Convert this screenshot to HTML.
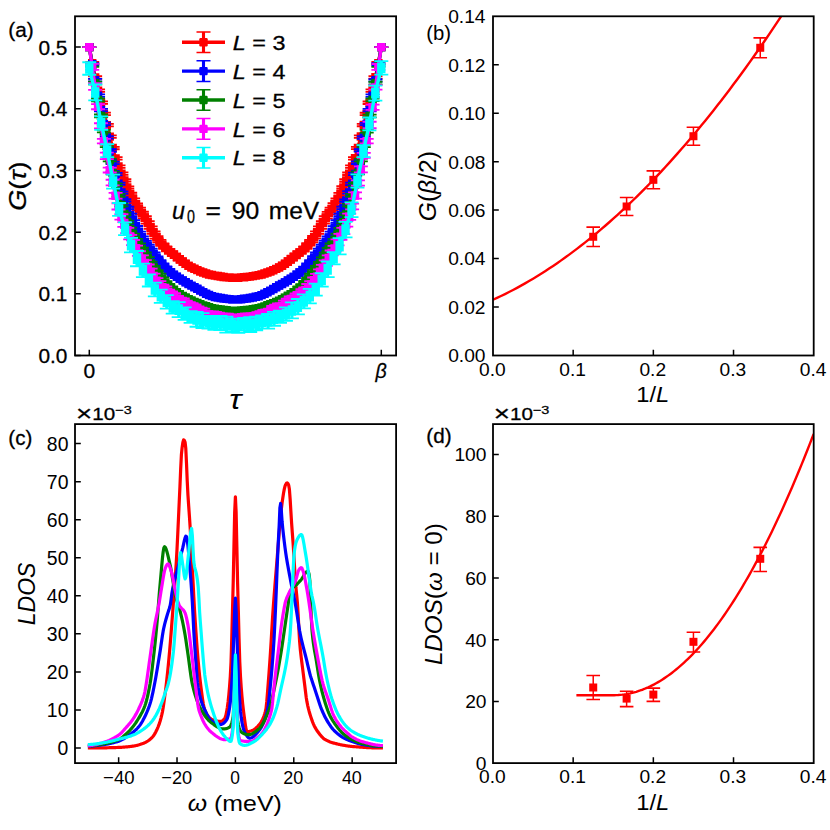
<!DOCTYPE html>
<html><head><meta charset="utf-8"><title>figure</title>
<style>html,body{margin:0;padding:0;background:#fff}svg{display:block}text{font-family:"Liberation Sans",sans-serif}</style></head>
<body>
<svg width="830" height="830" viewBox="0 0 830 830" font-family="'Liberation Sans', sans-serif" fill="#000">
<rect width="830" height="830" fill="#fff"/>
<clipPath id="ca"><rect x="75" y="16.3" width="321.1" height="339.2"/></clipPath>
<g clip-path="url(#ca)">
<polyline points="89.3,47.1 92.22,63.17 95.14,77.34 98.06,90.68 100.98,102.58 103.9,113.91 106.82,125.12 109.74,136.66 112.66,148.06 115.58,158.4 118.5,166.53 121.42,173.68 124.34,180.48 127.26,187.48 130.18,193.96 133.1,199.67 136.02,204.55 138.94,208.81 141.86,213.01 144.78,217.43 147.7,222.36 150.62,227.6 153.54,232.72 156.46,237.31 159.38,241.16 162.3,244.65 165.22,247.54 168.14,250.18 171.06,252.46 173.98,254.77 176.9,257 179.82,259.27 182.74,261.6 185.66,263.86 188.58,265.84 191.5,267.51 194.42,268.77 197.34,270.16 200.26,271.45 203.18,272.5 206.1,273.43 209.02,274.46 211.94,274.98 214.86,275.64 217.78,276.07 220.7,276.47 223.62,276.99 226.54,277.34 229.46,277.56 232.38,277.76 235.3,277.86 238.22,277.74 241.14,277.38 244.06,277.18 246.98,276.86 249.9,276.58 252.82,276.11 255.74,275.65 258.66,275.15 261.58,274.44 264.5,273.56 267.42,272.53 270.34,271.49 273.26,270.2 276.18,268.84 279.1,267.5 282.02,265.71 284.94,263.9 287.86,261.56 290.78,259.32 293.7,257.01 296.62,254.67 299.54,252.43 302.46,250.29 305.38,247.53 308.3,244.48 311.22,241.15 314.14,237.24 317.06,232.7 319.98,227.56 322.9,222.29 325.82,217.42 328.74,213.07 331.66,208.89 334.58,204.44 337.5,199.73 340.42,194.09 343.34,187.51 346.26,180.5 349.18,173.74 352.1,166.57 355.02,158.29 357.94,148.01 360.86,136.56 363.78,125.03 366.7,113.97 369.62,102.73 372.54,90.56 375.46,77.32 378.38,63.12 381.3,47.1" fill="none" stroke="#ff0000" stroke-width="3.4" stroke-linejoin="round"/>
<path d="M92.22 61.92V64.42M95.14 76.11V78.57M98.06 89.43V91.93M100.98 101.32V103.84M103.9 112.68V115.15M106.82 123.88V126.35M109.74 135.46V137.87M112.66 146.84V149.27M115.58 157.16V159.63M118.5 165.29V167.78M121.42 172.43V174.93M124.34 179.25V181.7M127.26 186.28V188.69M130.18 192.74V195.18M133.1 198.41V200.93M136.02 203.34V205.77M138.94 207.58V210.04M141.86 211.75V214.27M144.78 216.23V218.64M147.7 221.12V223.6M150.62 226.34V228.86M153.54 231.5V233.93M156.46 236.07V238.55M159.38 239.9V242.42M162.3 243.44V245.86M165.22 246.31V248.78M168.14 248.93V251.43M171.06 251.22V253.71M173.98 253.54V256M176.9 255.79V258.22M179.82 258.04V260.5M182.74 260.37V262.82M185.66 262.63V265.1M188.58 264.61V267.06M191.5 266.26V268.77M194.42 267.52V270.02M197.34 268.94V271.38M200.26 270.21V272.68M203.18 271.28V273.72M206.1 272.2V274.66M209.02 273.23V275.68M211.94 273.73V276.22M214.86 274.41V276.86M217.78 274.84V277.3M220.7 275.22V277.71M223.62 275.76V278.22M226.54 276.08V278.59M229.46 276.34V278.77M232.38 276.51V279.01M235.3 276.63V279.09M238.22 276.51V278.97M241.14 276.14V278.62M244.06 275.94V278.41M246.98 275.63V278.09M249.9 275.38V277.79M252.82 274.9V277.32M255.74 274.4V276.9M258.66 273.91V276.38M261.58 273.2V275.69M264.5 272.3V274.83M267.42 271.28V273.77M270.34 270.28V272.69M273.26 268.98V271.42M276.18 267.6V270.08M279.1 266.28V268.72M282.02 264.44V266.97M284.94 262.64V265.16M287.86 260.31V262.82M290.78 258.09V260.55M293.7 255.75V258.26M296.62 253.46V255.89M299.54 251.21V253.66M302.46 249.05V251.52M305.38 246.28V248.78M308.3 243.25V245.72M311.22 239.94V242.36M314.14 236.02V238.47M317.06 231.47V233.92M319.98 226.34V228.78M322.9 221.07V223.5M325.82 216.19V218.64M328.74 211.84V214.31M331.66 207.64V210.14M334.58 203.19V205.69M337.5 198.5V200.97M340.42 192.86V195.32M343.34 186.26V188.76M346.26 179.24V181.76M349.18 172.5V174.99M352.1 165.32V167.83M355.02 157.03V159.55M357.94 146.81V149.22M360.86 135.3V137.81M363.78 123.81V126.25M366.7 112.73V115.2M369.62 101.48V103.98M372.54 89.31V91.8M375.46 76.11V78.53M378.38 61.88V64.37" stroke="#ff0000" stroke-width="3.1" fill="none"/>
<path d="M82.3 47.1h14.0M82.3 47.1h14.0M85.22 61.92h14.0M85.22 64.42h14.0M88.14 76.11h14.0M88.14 78.57h14.0M91.06 89.43h14.0M91.06 91.93h14.0M93.98 101.32h14.0M93.98 103.84h14.0M96.9 112.68h14.0M96.9 115.15h14.0M99.82 123.88h14.0M99.82 126.35h14.0M102.74 135.46h14.0M102.74 137.87h14.0M105.66 146.84h14.0M105.66 149.27h14.0M108.58 157.16h14.0M108.58 159.63h14.0M111.5 165.29h14.0M111.5 167.78h14.0M114.42 172.43h14.0M114.42 174.93h14.0M117.34 179.25h14.0M117.34 181.7h14.0M120.26 186.28h14.0M120.26 188.69h14.0M123.18 192.74h14.0M123.18 195.18h14.0M126.1 198.41h14.0M126.1 200.93h14.0M129.02 203.34h14.0M129.02 205.77h14.0M131.94 207.58h14.0M131.94 210.04h14.0M134.86 211.75h14.0M134.86 214.27h14.0M137.78 216.23h14.0M137.78 218.64h14.0M140.7 221.12h14.0M140.7 223.6h14.0M143.62 226.34h14.0M143.62 228.86h14.0M146.54 231.5h14.0M146.54 233.93h14.0M149.46 236.07h14.0M149.46 238.55h14.0M152.38 239.9h14.0M152.38 242.42h14.0M155.3 243.44h14.0M155.3 245.86h14.0M158.22 246.31h14.0M158.22 248.78h14.0M161.14 248.93h14.0M161.14 251.43h14.0M164.06 251.22h14.0M164.06 253.71h14.0M166.98 253.54h14.0M166.98 256h14.0M169.9 255.79h14.0M169.9 258.22h14.0M172.82 258.04h14.0M172.82 260.5h14.0M175.74 260.37h14.0M175.74 262.82h14.0M178.66 262.63h14.0M178.66 265.1h14.0M181.58 264.61h14.0M181.58 267.06h14.0M184.5 266.26h14.0M184.5 268.77h14.0M187.42 267.52h14.0M187.42 270.02h14.0M190.34 268.94h14.0M190.34 271.38h14.0M193.26 270.21h14.0M193.26 272.68h14.0M196.18 271.28h14.0M196.18 273.72h14.0M199.1 272.2h14.0M199.1 274.66h14.0M202.02 273.23h14.0M202.02 275.68h14.0M204.94 273.73h14.0M204.94 276.22h14.0M207.86 274.41h14.0M207.86 276.86h14.0M210.78 274.84h14.0M210.78 277.3h14.0M213.7 275.22h14.0M213.7 277.71h14.0M216.62 275.76h14.0M216.62 278.22h14.0M219.54 276.08h14.0M219.54 278.59h14.0M222.46 276.34h14.0M222.46 278.77h14.0M225.38 276.51h14.0M225.38 279.01h14.0M228.3 276.63h14.0M228.3 279.09h14.0M231.22 276.51h14.0M231.22 278.97h14.0M234.14 276.14h14.0M234.14 278.62h14.0M237.06 275.94h14.0M237.06 278.41h14.0M239.98 275.63h14.0M239.98 278.09h14.0M242.9 275.38h14.0M242.9 277.79h14.0M245.82 274.9h14.0M245.82 277.32h14.0M248.74 274.4h14.0M248.74 276.9h14.0M251.66 273.91h14.0M251.66 276.38h14.0M254.58 273.2h14.0M254.58 275.69h14.0M257.5 272.3h14.0M257.5 274.83h14.0M260.42 271.28h14.0M260.42 273.77h14.0M263.34 270.28h14.0M263.34 272.69h14.0M266.26 268.98h14.0M266.26 271.42h14.0M269.18 267.6h14.0M269.18 270.08h14.0M272.1 266.28h14.0M272.1 268.72h14.0M275.02 264.44h14.0M275.02 266.97h14.0M277.94 262.64h14.0M277.94 265.16h14.0M280.86 260.31h14.0M280.86 262.82h14.0M283.78 258.09h14.0M283.78 260.55h14.0M286.7 255.75h14.0M286.7 258.26h14.0M289.62 253.46h14.0M289.62 255.89h14.0M292.54 251.21h14.0M292.54 253.66h14.0M295.46 249.05h14.0M295.46 251.52h14.0M298.38 246.28h14.0M298.38 248.78h14.0M301.3 243.25h14.0M301.3 245.72h14.0M304.22 239.94h14.0M304.22 242.36h14.0M307.14 236.02h14.0M307.14 238.47h14.0M310.06 231.47h14.0M310.06 233.92h14.0M312.98 226.34h14.0M312.98 228.78h14.0M315.9 221.07h14.0M315.9 223.5h14.0M318.82 216.19h14.0M318.82 218.64h14.0M321.74 211.84h14.0M321.74 214.31h14.0M324.66 207.64h14.0M324.66 210.14h14.0M327.58 203.19h14.0M327.58 205.69h14.0M330.5 198.5h14.0M330.5 200.97h14.0M333.42 192.86h14.0M333.42 195.32h14.0M336.34 186.26h14.0M336.34 188.76h14.0M339.26 179.24h14.0M339.26 181.76h14.0M342.18 172.5h14.0M342.18 174.99h14.0M345.1 165.32h14.0M345.1 167.83h14.0M348.02 157.03h14.0M348.02 159.55h14.0M350.94 146.81h14.0M350.94 149.22h14.0M353.86 135.3h14.0M353.86 137.81h14.0M356.78 123.81h14.0M356.78 126.25h14.0M359.7 112.73h14.0M359.7 115.2h14.0M362.62 101.48h14.0M362.62 103.98h14.0M365.54 89.31h14.0M365.54 91.8h14.0M368.46 76.11h14.0M368.46 78.53h14.0M371.38 61.88h14.0M371.38 64.37h14.0M374.3 47.1h14.0M374.3 47.1h14.0" stroke="#ff0000" stroke-width="1.8" fill="none"/>
<path d="M85.1 47.1h8.4M88.02 63.17h8.4M90.94 77.34h8.4M93.86 90.68h8.4M96.78 102.58h8.4M99.7 113.91h8.4M102.62 125.12h8.4M105.54 136.66h8.4M108.46 148.06h8.4M111.38 158.4h8.4M114.3 166.53h8.4M117.22 173.68h8.4M120.14 180.48h8.4M123.06 187.48h8.4M125.98 193.96h8.4M128.9 199.67h8.4M131.82 204.55h8.4M134.74 208.81h8.4M137.66 213.01h8.4M140.58 217.43h8.4M143.5 222.36h8.4M146.42 227.6h8.4M149.34 232.72h8.4M152.26 237.31h8.4M155.18 241.16h8.4M158.1 244.65h8.4M161.02 247.54h8.4M163.94 250.18h8.4M166.86 252.46h8.4M169.78 254.77h8.4M172.7 257h8.4M175.62 259.27h8.4M178.54 261.6h8.4M181.46 263.86h8.4M184.38 265.84h8.4M187.3 267.51h8.4M190.22 268.77h8.4M193.14 270.16h8.4M196.06 271.45h8.4M198.98 272.5h8.4M201.9 273.43h8.4M204.82 274.46h8.4M207.74 274.98h8.4M210.66 275.64h8.4M213.58 276.07h8.4M216.5 276.47h8.4M219.42 276.99h8.4M222.34 277.34h8.4M225.26 277.56h8.4M228.18 277.76h8.4M231.1 277.86h8.4M234.02 277.74h8.4M236.94 277.38h8.4M239.86 277.18h8.4M242.78 276.86h8.4M245.7 276.58h8.4M248.62 276.11h8.4M251.54 275.65h8.4M254.46 275.15h8.4M257.38 274.44h8.4M260.3 273.56h8.4M263.22 272.53h8.4M266.14 271.49h8.4M269.06 270.2h8.4M271.98 268.84h8.4M274.9 267.5h8.4M277.82 265.71h8.4M280.74 263.9h8.4M283.66 261.56h8.4M286.58 259.32h8.4M289.5 257.01h8.4M292.42 254.67h8.4M295.34 252.43h8.4M298.26 250.29h8.4M301.18 247.53h8.4M304.1 244.48h8.4M307.02 241.15h8.4M309.94 237.24h8.4M312.86 232.7h8.4M315.78 227.56h8.4M318.7 222.29h8.4M321.62 217.42h8.4M324.54 213.07h8.4M327.46 208.89h8.4M330.38 204.44h8.4M333.3 199.73h8.4M336.22 194.09h8.4M339.14 187.51h8.4M342.06 180.5h8.4M344.98 173.74h8.4M347.9 166.57h8.4M350.82 158.29h8.4M353.74 148.01h8.4M356.66 136.56h8.4M359.58 125.03h8.4M362.5 113.97h8.4M365.42 102.73h8.4M368.34 90.56h8.4M371.26 77.32h8.4M374.18 63.12h8.4M377.1 47.1h8.4" stroke="#ff0000" stroke-width="8.4" fill="none"/>
<polyline points="89.3,47.1 92.22,64.29 95.14,80.22 98.06,95.62 100.98,110.07 103.9,123.89 106.82,137.36 109.74,150.5 112.66,162.83 115.58,174.09 118.5,183.73 121.42,192.53 124.34,200.47 127.26,207.93 130.18,214.91 133.1,221.3 136.02,227.26 138.94,232.77 141.86,237.59 144.78,242.05 147.7,245.86 150.62,249.8 153.54,253.75 156.46,257.61 159.38,261.26 162.3,264.65 165.22,267.7 168.14,270.21 171.06,272.65 173.98,274.85 176.9,276.76 179.82,278.7 182.74,280.55 185.66,282.21 188.58,284.03 191.5,285.63 194.42,287.18 197.34,288.81 200.26,290.61 203.18,292.14 206.1,293.79 209.02,295.05 211.94,296.16 214.86,297 217.78,297.46 220.7,297.95 223.62,298.5 226.54,298.91 229.46,299.13 232.38,299.5 235.3,299.59 238.22,299.46 241.14,299.29 244.06,298.82 246.98,298.47 249.9,298.06 252.82,297.51 255.74,296.73 258.66,296.18 261.58,295.12 264.5,293.73 267.42,292.21 270.34,290.6 273.26,288.98 276.18,287.31 279.1,285.57 282.02,283.97 284.94,282.39 287.86,280.48 290.78,278.69 293.7,276.83 296.62,274.79 299.54,272.57 302.46,270.28 305.38,267.77 308.3,264.67 311.22,261.33 314.14,257.48 317.06,253.71 319.98,249.77 322.9,245.92 325.82,241.79 328.74,237.63 331.66,232.82 334.58,227.36 337.5,221.41 340.42,214.9 343.34,207.94 346.26,200.51 349.18,192.42 352.1,183.82 355.02,173.9 357.94,162.73 360.86,150.48 363.78,137.51 366.7,123.98 369.62,110.09 372.54,95.66 375.46,80.26 378.38,64.38 381.3,47.1" fill="none" stroke="#0000ff" stroke-width="3.4" stroke-linejoin="round"/>
<path d="M92.22 63.04V65.55M95.14 78.96V81.47M98.06 94.42V96.83M100.98 108.83V111.31M103.9 122.66V125.11M106.82 136.11V138.61M109.74 149.26V151.74M112.66 161.6V164.06M115.58 172.84V175.35M118.5 182.53V184.94M121.42 191.29V193.77M124.34 199.24V201.69M127.26 206.73V209.14M130.18 213.66V216.16M133.1 220.06V222.54M136.02 226V228.52M138.94 231.53V234.01M141.86 236.37V238.82M144.78 240.78V243.31M147.7 244.65V247.07M150.62 248.59V251.01M153.54 252.5V255M156.46 256.38V258.83M159.38 260.03V262.48M162.3 263.39V265.9M165.22 266.47V268.92M168.14 268.95V271.46M171.06 271.41V273.9M173.98 273.63V276.08M176.9 275.55V277.97M179.82 277.49V279.92M182.74 279.29V281.82M185.66 280.98V283.44M188.58 282.81V285.24M191.5 284.41V286.85M194.42 285.92V288.43M197.34 287.6V290.03M200.26 289.36V291.87M203.18 290.93V293.35M206.1 292.53V295.05M209.02 293.82V296.29M211.94 294.95V297.36M214.86 295.74V298.26M217.78 296.23V298.68M220.7 296.71V299.2M223.62 297.27V299.74M226.54 297.7V300.11M229.46 297.92V300.34M232.38 298.29V300.71M235.3 298.37V300.8M238.22 298.26V300.67M241.14 298.09V300.5M244.06 297.56V300.08M246.98 297.27V299.68M249.9 296.83V299.3M252.82 296.3V298.72M255.74 295.51V297.94M258.66 294.93V297.43M261.58 293.86V296.38M264.5 292.5V294.97M267.42 291V293.41M270.34 289.34V291.87M273.26 287.78V290.19M276.18 286.08V288.54M279.1 284.33V286.81M282.02 282.71V285.23M284.94 281.14V283.64M287.86 279.24V281.72M290.78 277.46V279.91M293.7 275.57V278.08M296.62 273.53V276.04M299.54 271.32V273.83M302.46 269.03V271.53M305.38 266.57V268.98M308.3 263.45V265.89M311.22 260.1V262.56M314.14 256.24V258.71M317.06 252.46V254.96M319.98 248.55V250.99M322.9 244.68V247.17M325.82 240.57V243.02M328.74 236.38V238.88M331.66 231.61V234.04M334.58 226.12V228.59M337.5 220.2V222.62M340.42 213.68V216.11M343.34 206.67V209.2M346.26 199.28V201.73M349.18 191.17V193.68M352.1 182.58V185.05M355.02 172.7V175.11M357.94 161.48V163.98M360.86 149.27V151.69M363.78 136.25V138.76M366.7 122.78V125.18M369.62 108.85V111.33M372.54 94.44V96.87M375.46 79.04V81.49M378.38 63.12V65.64" stroke="#0000ff" stroke-width="3.1" fill="none"/>
<path d="M82.3 47.1h14.0M82.3 47.1h14.0M85.22 63.04h14.0M85.22 65.55h14.0M88.14 78.96h14.0M88.14 81.47h14.0M91.06 94.42h14.0M91.06 96.83h14.0M93.98 108.83h14.0M93.98 111.31h14.0M96.9 122.66h14.0M96.9 125.11h14.0M99.82 136.11h14.0M99.82 138.61h14.0M102.74 149.26h14.0M102.74 151.74h14.0M105.66 161.6h14.0M105.66 164.06h14.0M108.58 172.84h14.0M108.58 175.35h14.0M111.5 182.53h14.0M111.5 184.94h14.0M114.42 191.29h14.0M114.42 193.77h14.0M117.34 199.24h14.0M117.34 201.69h14.0M120.26 206.73h14.0M120.26 209.14h14.0M123.18 213.66h14.0M123.18 216.16h14.0M126.1 220.06h14.0M126.1 222.54h14.0M129.02 226h14.0M129.02 228.52h14.0M131.94 231.53h14.0M131.94 234.01h14.0M134.86 236.37h14.0M134.86 238.82h14.0M137.78 240.78h14.0M137.78 243.31h14.0M140.7 244.65h14.0M140.7 247.07h14.0M143.62 248.59h14.0M143.62 251.01h14.0M146.54 252.5h14.0M146.54 255h14.0M149.46 256.38h14.0M149.46 258.83h14.0M152.38 260.03h14.0M152.38 262.48h14.0M155.3 263.39h14.0M155.3 265.9h14.0M158.22 266.47h14.0M158.22 268.92h14.0M161.14 268.95h14.0M161.14 271.46h14.0M164.06 271.41h14.0M164.06 273.9h14.0M166.98 273.63h14.0M166.98 276.08h14.0M169.9 275.55h14.0M169.9 277.97h14.0M172.82 277.49h14.0M172.82 279.92h14.0M175.74 279.29h14.0M175.74 281.82h14.0M178.66 280.98h14.0M178.66 283.44h14.0M181.58 282.81h14.0M181.58 285.24h14.0M184.5 284.41h14.0M184.5 286.85h14.0M187.42 285.92h14.0M187.42 288.43h14.0M190.34 287.6h14.0M190.34 290.03h14.0M193.26 289.36h14.0M193.26 291.87h14.0M196.18 290.93h14.0M196.18 293.35h14.0M199.1 292.53h14.0M199.1 295.05h14.0M202.02 293.82h14.0M202.02 296.29h14.0M204.94 294.95h14.0M204.94 297.36h14.0M207.86 295.74h14.0M207.86 298.26h14.0M210.78 296.23h14.0M210.78 298.68h14.0M213.7 296.71h14.0M213.7 299.2h14.0M216.62 297.27h14.0M216.62 299.74h14.0M219.54 297.7h14.0M219.54 300.11h14.0M222.46 297.92h14.0M222.46 300.34h14.0M225.38 298.29h14.0M225.38 300.71h14.0M228.3 298.37h14.0M228.3 300.8h14.0M231.22 298.26h14.0M231.22 300.67h14.0M234.14 298.09h14.0M234.14 300.5h14.0M237.06 297.56h14.0M237.06 300.08h14.0M239.98 297.27h14.0M239.98 299.68h14.0M242.9 296.83h14.0M242.9 299.3h14.0M245.82 296.3h14.0M245.82 298.72h14.0M248.74 295.51h14.0M248.74 297.94h14.0M251.66 294.93h14.0M251.66 297.43h14.0M254.58 293.86h14.0M254.58 296.38h14.0M257.5 292.5h14.0M257.5 294.97h14.0M260.42 291h14.0M260.42 293.41h14.0M263.34 289.34h14.0M263.34 291.87h14.0M266.26 287.78h14.0M266.26 290.19h14.0M269.18 286.08h14.0M269.18 288.54h14.0M272.1 284.33h14.0M272.1 286.81h14.0M275.02 282.71h14.0M275.02 285.23h14.0M277.94 281.14h14.0M277.94 283.64h14.0M280.86 279.24h14.0M280.86 281.72h14.0M283.78 277.46h14.0M283.78 279.91h14.0M286.7 275.57h14.0M286.7 278.08h14.0M289.62 273.53h14.0M289.62 276.04h14.0M292.54 271.32h14.0M292.54 273.83h14.0M295.46 269.03h14.0M295.46 271.53h14.0M298.38 266.57h14.0M298.38 268.98h14.0M301.3 263.45h14.0M301.3 265.89h14.0M304.22 260.1h14.0M304.22 262.56h14.0M307.14 256.24h14.0M307.14 258.71h14.0M310.06 252.46h14.0M310.06 254.96h14.0M312.98 248.55h14.0M312.98 250.99h14.0M315.9 244.68h14.0M315.9 247.17h14.0M318.82 240.57h14.0M318.82 243.02h14.0M321.74 236.38h14.0M321.74 238.88h14.0M324.66 231.61h14.0M324.66 234.04h14.0M327.58 226.12h14.0M327.58 228.59h14.0M330.5 220.2h14.0M330.5 222.62h14.0M333.42 213.68h14.0M333.42 216.11h14.0M336.34 206.67h14.0M336.34 209.2h14.0M339.26 199.28h14.0M339.26 201.73h14.0M342.18 191.17h14.0M342.18 193.68h14.0M345.1 182.58h14.0M345.1 185.05h14.0M348.02 172.7h14.0M348.02 175.11h14.0M350.94 161.48h14.0M350.94 163.98h14.0M353.86 149.27h14.0M353.86 151.69h14.0M356.78 136.25h14.0M356.78 138.76h14.0M359.7 122.78h14.0M359.7 125.18h14.0M362.62 108.85h14.0M362.62 111.33h14.0M365.54 94.44h14.0M365.54 96.87h14.0M368.46 79.04h14.0M368.46 81.49h14.0M371.38 63.12h14.0M371.38 65.64h14.0M374.3 47.1h14.0M374.3 47.1h14.0" stroke="#0000ff" stroke-width="1.8" fill="none"/>
<path d="M85.1 47.1h8.4M88.02 64.29h8.4M90.94 80.22h8.4M93.86 95.62h8.4M96.78 110.07h8.4M99.7 123.89h8.4M102.62 137.36h8.4M105.54 150.5h8.4M108.46 162.83h8.4M111.38 174.09h8.4M114.3 183.73h8.4M117.22 192.53h8.4M120.14 200.47h8.4M123.06 207.93h8.4M125.98 214.91h8.4M128.9 221.3h8.4M131.82 227.26h8.4M134.74 232.77h8.4M137.66 237.59h8.4M140.58 242.05h8.4M143.5 245.86h8.4M146.42 249.8h8.4M149.34 253.75h8.4M152.26 257.61h8.4M155.18 261.26h8.4M158.1 264.65h8.4M161.02 267.7h8.4M163.94 270.21h8.4M166.86 272.65h8.4M169.78 274.85h8.4M172.7 276.76h8.4M175.62 278.7h8.4M178.54 280.55h8.4M181.46 282.21h8.4M184.38 284.03h8.4M187.3 285.63h8.4M190.22 287.18h8.4M193.14 288.81h8.4M196.06 290.61h8.4M198.98 292.14h8.4M201.9 293.79h8.4M204.82 295.05h8.4M207.74 296.16h8.4M210.66 297h8.4M213.58 297.46h8.4M216.5 297.95h8.4M219.42 298.5h8.4M222.34 298.91h8.4M225.26 299.13h8.4M228.18 299.5h8.4M231.1 299.59h8.4M234.02 299.46h8.4M236.94 299.29h8.4M239.86 298.82h8.4M242.78 298.47h8.4M245.7 298.06h8.4M248.62 297.51h8.4M251.54 296.73h8.4M254.46 296.18h8.4M257.38 295.12h8.4M260.3 293.73h8.4M263.22 292.21h8.4M266.14 290.6h8.4M269.06 288.98h8.4M271.98 287.31h8.4M274.9 285.57h8.4M277.82 283.97h8.4M280.74 282.39h8.4M283.66 280.48h8.4M286.58 278.69h8.4M289.5 276.83h8.4M292.42 274.79h8.4M295.34 272.57h8.4M298.26 270.28h8.4M301.18 267.77h8.4M304.1 264.67h8.4M307.02 261.33h8.4M309.94 257.48h8.4M312.86 253.71h8.4M315.78 249.77h8.4M318.7 245.92h8.4M321.62 241.79h8.4M324.54 237.63h8.4M327.46 232.82h8.4M330.38 227.36h8.4M333.3 221.41h8.4M336.22 214.9h8.4M339.14 207.94h8.4M342.06 200.51h8.4M344.98 192.42h8.4M347.9 183.82h8.4M350.82 173.9h8.4M353.74 162.73h8.4M356.66 150.48h8.4M359.58 137.51h8.4M362.5 123.98h8.4M365.42 110.09h8.4M368.34 95.66h8.4M371.26 80.26h8.4M374.18 64.38h8.4M377.1 47.1h8.4" stroke="#0000ff" stroke-width="8.4" fill="none"/>
<polyline points="89.3,47.1 92.22,65.63 95.14,83.08 98.06,99.86 100.98,115.86 103.9,131.1 106.82,145.89 109.74,159.97 112.66,173.01 115.58,184.69 118.5,195.32 121.42,205.01 124.34,213.94 127.26,221.91 130.18,229.09 133.1,235.09 136.02,240.3 138.94,244.68 141.86,249.08 144.78,253.88 147.7,258.43 150.62,263.08 153.54,267.31 156.46,271.35 159.38,275.06 162.3,278.86 165.22,282.45 168.14,285.35 171.06,287.84 173.98,290.18 176.9,292.25 179.82,294.14 182.74,295.86 185.66,297.6 188.58,299.1 191.5,300.47 194.42,301.87 197.34,303.04 200.26,304.19 203.18,305.33 206.1,306.29 209.02,307.3 211.94,308.14 214.86,308.72 217.78,309.16 220.7,309.56 223.62,309.95 226.54,310.28 229.46,310.62 232.38,310.74 235.3,310.82 238.22,310.81 241.14,310.55 244.06,310.32 246.98,310.04 249.9,309.7 252.82,309.21 255.74,308.68 258.66,308.11 261.58,307.37 264.5,306.33 267.42,305.29 270.34,304.17 273.26,303.1 276.18,301.89 279.1,300.62 282.02,299.25 284.94,297.59 287.86,295.93 290.78,294.11 293.7,292.23 296.62,290.15 299.54,287.89 302.46,285.4 305.38,282.3 308.3,278.95 311.22,275.13 314.14,271.24 317.06,267.33 319.98,263.11 322.9,258.63 325.82,253.9 328.74,249.22 331.66,244.83 334.58,240.26 337.5,235.1 340.42,229.15 343.34,222.05 346.26,213.95 349.18,205.12 352.1,195.19 355.02,184.58 357.94,173.02 360.86,159.96 363.78,145.87 366.7,131.2 369.62,115.94 372.54,99.84 375.46,83.09 378.38,65.5 381.3,47.1" fill="none" stroke="#008000" stroke-width="3.4" stroke-linejoin="round"/>
<path d="M92.22 64.3V66.96M95.14 81.69V84.47M98.06 98.48V101.23M100.98 114.49V117.24M103.9 129.79V132.42M106.82 144.57V147.21M109.74 158.67V161.28M112.66 171.7V174.32M115.58 183.37V186M118.5 193.91V196.73M121.42 203.61V206.41M124.34 212.62V215.27M127.26 220.58V223.24M130.18 227.68V230.49M133.1 233.73V236.46M136.02 238.95V241.64M138.94 243.33V246.04M141.86 247.75V250.41M144.78 252.51V255.24M147.7 257.05V259.81M150.62 261.72V264.44M153.54 265.92V268.71M156.46 270.03V272.66M159.38 273.69V276.43M162.3 277.45V280.27M165.22 281.13V283.77M168.14 284V286.71M171.06 286.47V289.21M173.98 288.84V291.52M176.9 290.84V293.66M179.82 292.78V295.49M182.74 294.51V297.22M185.66 296.2V299M188.58 297.8V300.4M191.5 299.07V301.87M194.42 300.55V303.18M197.34 301.7V304.39M200.26 302.84V305.55M203.18 303.98V306.69M206.1 304.98V307.6M209.02 305.96V308.64M211.94 306.8V309.48M214.86 307.32V310.13M217.78 307.75V310.56M220.7 308.2V310.93M223.62 308.55V311.36M226.54 308.89V311.68M229.46 309.28V311.97M232.38 309.42V312.05M235.3 309.45V312.19M238.22 309.47V312.15M241.14 309.25V311.85M244.06 308.91V311.73M246.98 308.63V311.45M249.9 308.34V311.06M252.82 307.84V310.58M255.74 307.3V310.06M258.66 306.7V309.51M261.58 306.02V308.72M264.5 304.96V307.7M267.42 303.96V306.62M270.34 302.85V305.5M273.26 301.75V304.46M276.18 300.56V303.21M279.1 299.31V301.92M282.02 297.91V300.59M284.94 296.2V298.97M287.86 294.6V297.26M290.78 292.71V295.51M293.7 290.85V293.61M296.62 288.78V291.52M299.54 286.49V289.29M302.46 284.09V286.71M305.38 280.98V283.62M308.3 277.55V280.35M311.22 273.73V276.53M314.14 269.93V272.56M317.06 265.94V268.71M319.98 261.81V264.41M322.9 257.31V259.94M325.82 252.59V255.22M328.74 247.88V250.55M331.66 243.49V246.18M334.58 238.86V241.66M337.5 233.75V236.45M340.42 227.83V230.46M343.34 220.72V223.39M346.26 212.64V215.25M349.18 203.81V206.42M352.1 193.84V196.54M355.02 183.22V185.94M357.94 171.69V174.35M360.86 158.61V161.3M363.78 144.55V147.18M366.7 129.83V132.58M369.62 114.6V117.29M372.54 98.51V101.16M375.46 81.73V84.45M378.38 64.18V66.83" stroke="#008000" stroke-width="3.1" fill="none"/>
<path d="M82.3 47.1h14.0M82.3 47.1h14.0M85.22 64.3h14.0M85.22 66.96h14.0M88.14 81.69h14.0M88.14 84.47h14.0M91.06 98.48h14.0M91.06 101.23h14.0M93.98 114.49h14.0M93.98 117.24h14.0M96.9 129.79h14.0M96.9 132.42h14.0M99.82 144.57h14.0M99.82 147.21h14.0M102.74 158.67h14.0M102.74 161.28h14.0M105.66 171.7h14.0M105.66 174.32h14.0M108.58 183.37h14.0M108.58 186h14.0M111.5 193.91h14.0M111.5 196.73h14.0M114.42 203.61h14.0M114.42 206.41h14.0M117.34 212.62h14.0M117.34 215.27h14.0M120.26 220.58h14.0M120.26 223.24h14.0M123.18 227.68h14.0M123.18 230.49h14.0M126.1 233.73h14.0M126.1 236.46h14.0M129.02 238.95h14.0M129.02 241.64h14.0M131.94 243.33h14.0M131.94 246.04h14.0M134.86 247.75h14.0M134.86 250.41h14.0M137.78 252.51h14.0M137.78 255.24h14.0M140.7 257.05h14.0M140.7 259.81h14.0M143.62 261.72h14.0M143.62 264.44h14.0M146.54 265.92h14.0M146.54 268.71h14.0M149.46 270.03h14.0M149.46 272.66h14.0M152.38 273.69h14.0M152.38 276.43h14.0M155.3 277.45h14.0M155.3 280.27h14.0M158.22 281.13h14.0M158.22 283.77h14.0M161.14 284h14.0M161.14 286.71h14.0M164.06 286.47h14.0M164.06 289.21h14.0M166.98 288.84h14.0M166.98 291.52h14.0M169.9 290.84h14.0M169.9 293.66h14.0M172.82 292.78h14.0M172.82 295.49h14.0M175.74 294.51h14.0M175.74 297.22h14.0M178.66 296.2h14.0M178.66 299h14.0M181.58 297.8h14.0M181.58 300.4h14.0M184.5 299.07h14.0M184.5 301.87h14.0M187.42 300.55h14.0M187.42 303.18h14.0M190.34 301.7h14.0M190.34 304.39h14.0M193.26 302.84h14.0M193.26 305.55h14.0M196.18 303.98h14.0M196.18 306.69h14.0M199.1 304.98h14.0M199.1 307.6h14.0M202.02 305.96h14.0M202.02 308.64h14.0M204.94 306.8h14.0M204.94 309.48h14.0M207.86 307.32h14.0M207.86 310.13h14.0M210.78 307.75h14.0M210.78 310.56h14.0M213.7 308.2h14.0M213.7 310.93h14.0M216.62 308.55h14.0M216.62 311.36h14.0M219.54 308.89h14.0M219.54 311.68h14.0M222.46 309.28h14.0M222.46 311.97h14.0M225.38 309.42h14.0M225.38 312.05h14.0M228.3 309.45h14.0M228.3 312.19h14.0M231.22 309.47h14.0M231.22 312.15h14.0M234.14 309.25h14.0M234.14 311.85h14.0M237.06 308.91h14.0M237.06 311.73h14.0M239.98 308.63h14.0M239.98 311.45h14.0M242.9 308.34h14.0M242.9 311.06h14.0M245.82 307.84h14.0M245.82 310.58h14.0M248.74 307.3h14.0M248.74 310.06h14.0M251.66 306.7h14.0M251.66 309.51h14.0M254.58 306.02h14.0M254.58 308.72h14.0M257.5 304.96h14.0M257.5 307.7h14.0M260.42 303.96h14.0M260.42 306.62h14.0M263.34 302.85h14.0M263.34 305.5h14.0M266.26 301.75h14.0M266.26 304.46h14.0M269.18 300.56h14.0M269.18 303.21h14.0M272.1 299.31h14.0M272.1 301.92h14.0M275.02 297.91h14.0M275.02 300.59h14.0M277.94 296.2h14.0M277.94 298.97h14.0M280.86 294.6h14.0M280.86 297.26h14.0M283.78 292.71h14.0M283.78 295.51h14.0M286.7 290.85h14.0M286.7 293.61h14.0M289.62 288.78h14.0M289.62 291.52h14.0M292.54 286.49h14.0M292.54 289.29h14.0M295.46 284.09h14.0M295.46 286.71h14.0M298.38 280.98h14.0M298.38 283.62h14.0M301.3 277.55h14.0M301.3 280.35h14.0M304.22 273.73h14.0M304.22 276.53h14.0M307.14 269.93h14.0M307.14 272.56h14.0M310.06 265.94h14.0M310.06 268.71h14.0M312.98 261.81h14.0M312.98 264.41h14.0M315.9 257.31h14.0M315.9 259.94h14.0M318.82 252.59h14.0M318.82 255.22h14.0M321.74 247.88h14.0M321.74 250.55h14.0M324.66 243.49h14.0M324.66 246.18h14.0M327.58 238.86h14.0M327.58 241.66h14.0M330.5 233.75h14.0M330.5 236.45h14.0M333.42 227.83h14.0M333.42 230.46h14.0M336.34 220.72h14.0M336.34 223.39h14.0M339.26 212.64h14.0M339.26 215.25h14.0M342.18 203.81h14.0M342.18 206.42h14.0M345.1 193.84h14.0M345.1 196.54h14.0M348.02 183.22h14.0M348.02 185.94h14.0M350.94 171.69h14.0M350.94 174.35h14.0M353.86 158.61h14.0M353.86 161.3h14.0M356.78 144.55h14.0M356.78 147.18h14.0M359.7 129.83h14.0M359.7 132.58h14.0M362.62 114.6h14.0M362.62 117.29h14.0M365.54 98.51h14.0M365.54 101.16h14.0M368.46 81.73h14.0M368.46 84.45h14.0M371.38 64.18h14.0M371.38 66.83h14.0M374.3 47.1h14.0M374.3 47.1h14.0" stroke="#008000" stroke-width="1.8" fill="none"/>
<path d="M85.1 47.1h8.4M88.02 65.63h8.4M90.94 83.08h8.4M93.86 99.86h8.4M96.78 115.86h8.4M99.7 131.1h8.4M102.62 145.89h8.4M105.54 159.97h8.4M108.46 173.01h8.4M111.38 184.69h8.4M114.3 195.32h8.4M117.22 205.01h8.4M120.14 213.94h8.4M123.06 221.91h8.4M125.98 229.09h8.4M128.9 235.09h8.4M131.82 240.3h8.4M134.74 244.68h8.4M137.66 249.08h8.4M140.58 253.88h8.4M143.5 258.43h8.4M146.42 263.08h8.4M149.34 267.31h8.4M152.26 271.35h8.4M155.18 275.06h8.4M158.1 278.86h8.4M161.02 282.45h8.4M163.94 285.35h8.4M166.86 287.84h8.4M169.78 290.18h8.4M172.7 292.25h8.4M175.62 294.14h8.4M178.54 295.86h8.4M181.46 297.6h8.4M184.38 299.1h8.4M187.3 300.47h8.4M190.22 301.87h8.4M193.14 303.04h8.4M196.06 304.19h8.4M198.98 305.33h8.4M201.9 306.29h8.4M204.82 307.3h8.4M207.74 308.14h8.4M210.66 308.72h8.4M213.58 309.16h8.4M216.5 309.56h8.4M219.42 309.95h8.4M222.34 310.28h8.4M225.26 310.62h8.4M228.18 310.74h8.4M231.1 310.82h8.4M234.02 310.81h8.4M236.94 310.55h8.4M239.86 310.32h8.4M242.78 310.04h8.4M245.7 309.7h8.4M248.62 309.21h8.4M251.54 308.68h8.4M254.46 308.11h8.4M257.38 307.37h8.4M260.3 306.33h8.4M263.22 305.29h8.4M266.14 304.17h8.4M269.06 303.1h8.4M271.98 301.89h8.4M274.9 300.62h8.4M277.82 299.25h8.4M280.74 297.59h8.4M283.66 295.93h8.4M286.58 294.11h8.4M289.5 292.23h8.4M292.42 290.15h8.4M295.34 287.89h8.4M298.26 285.4h8.4M301.18 282.3h8.4M304.1 278.95h8.4M307.02 275.13h8.4M309.94 271.24h8.4M312.86 267.33h8.4M315.78 263.11h8.4M318.7 258.63h8.4M321.62 253.9h8.4M324.54 249.22h8.4M327.46 244.83h8.4M330.38 240.26h8.4M333.3 235.1h8.4M336.22 229.15h8.4M339.14 222.05h8.4M342.06 213.95h8.4M344.98 205.12h8.4M347.9 195.19h8.4M350.82 184.58h8.4M353.74 173.02h8.4M356.66 159.96h8.4M359.58 145.87h8.4M362.5 131.2h8.4M365.42 115.94h8.4M368.34 99.84h8.4M371.26 83.09h8.4M374.18 65.5h8.4M377.1 47.1h8.4" stroke="#008000" stroke-width="8.4" fill="none"/>
<polyline points="89.3,47.1 92.22,66.87 95.14,86.69 98.06,106.71 100.98,125.84 103.9,141.15 106.82,155.87 109.74,170.1 112.66,182.57 115.58,195.75 118.5,206.38 121.42,216.89 124.34,224.49 127.26,230.45 130.18,237.07 133.1,242.53 136.02,248.56 138.94,253.54 141.86,258.78 144.78,263.04 147.7,267.05 150.62,271.78 153.54,275.92 156.46,280.74 159.38,284.33 162.3,287.15 165.22,289.37 168.14,291.87 171.06,294.26 173.98,296.11 176.9,298.34 179.82,300.11 182.74,301.33 185.66,303.63 188.58,304.86 191.5,305.79 194.42,307.79 197.34,308.99 200.26,310.83 203.18,311.15 206.1,313.85 209.02,314.42 211.94,315.2 214.86,314.81 217.78,315.75 220.7,316.42 223.62,317.2 226.54,316.93 229.46,317.29 232.38,317.76 235.3,318.12 238.22,317.91 241.14,317.25 244.06,316.95 246.98,316.7 249.9,316.38 252.82,316.53 255.74,315.39 258.66,315.2 261.58,313.99 264.5,312.84 267.42,312.12 270.34,310.98 273.26,308.88 276.18,307.7 279.1,306.62 282.02,306.04 284.94,303.43 287.86,301.58 290.78,299.69 293.7,298.54 296.62,296.58 299.54,294.41 302.46,291.69 305.38,290.02 308.3,287.02 311.22,284.35 314.14,280.26 317.06,276.82 319.98,271.72 322.9,267.61 325.82,263.04 328.74,258.07 331.66,252.91 334.58,248.8 337.5,242.38 340.42,236.81 343.34,231 346.26,223.94 349.18,216.73 352.1,206.43 355.02,195.48 357.94,183.03 360.86,169.37 363.78,155.32 366.7,141.13 369.62,125 372.54,107.19 375.46,87.45 378.38,66.92 381.3,47.1" fill="none" stroke="#ff00ff" stroke-width="3.4" stroke-linejoin="round"/>
<path d="M92.22 63.87V69.86M95.14 83.46V89.93M98.06 104.18V109.25M100.98 123.24V128.44M103.9 138.87V143.44M106.82 152.69V159.05M109.74 167.7V172.49M112.66 179.74V185.4M115.58 192.97V198.54M118.5 203.25V209.5M121.42 214.24V219.54M124.34 222.11V226.87M127.26 227.8V233.09M130.18 234.79V239.34M133.1 239.98V245.09M136.02 245.64V251.48M138.94 251.26V255.83M141.86 255.46V262.1M144.78 260.22V265.85M147.7 264.49V269.6M150.62 268.63V274.92M153.54 273.54V278.29M156.46 278.17V283.32M159.38 281.07V287.59M162.3 284.66V289.64M165.22 286.34V292.4M168.14 289.56V294.18M171.06 291.44V297.07M173.98 293.16V299.06M176.9 295.89V300.8M179.82 297.53V302.7M182.74 298.5V304.16M185.66 300.76V306.51M188.58 302.47V307.26M191.5 303.11V308.47M194.42 304.46V311.12M197.34 306.41V311.57M200.26 307.74V313.92M203.18 308.7V313.59M206.1 311.11V316.58M209.02 311.63V317.22M211.94 312.32V318.09M214.86 311.79V317.83M217.78 312.64V318.85M220.7 313.42V319.42M223.62 314.08V320.32M226.54 313.73V320.14M229.46 314.71V319.87M232.38 314.62V320.9M235.3 315.32V320.92M238.22 315.41V320.42M241.14 314.84V319.67M244.06 313.88V320.02M246.98 313.77V319.63M249.9 314.08V318.68M252.82 313.66V319.41M255.74 313.12V317.66M258.66 312.54V317.85M261.58 311.14V316.84M264.5 309.9V315.78M267.42 309.72V314.52M270.34 308.71V313.25M273.26 306.02V311.74M276.18 304.57V310.83M279.1 303.52V309.73M282.02 303.42V308.66M284.94 300.57V306.29M287.86 298.56V304.6M290.78 296.5V302.88M293.7 295.77V301.3M296.62 293.39V299.77M299.54 291.84V296.99M302.46 289.23V294.16M305.38 287.47V292.56M308.3 283.99V290.05M311.22 281.14V287.55M314.14 277.52V283.01M317.06 273.83V279.81M319.98 269.35V274.1M322.9 264.83V270.39M325.82 260.34V265.75M328.74 255.37V260.77M331.66 250.48V255.34M334.58 245.89V251.71M337.5 239.41V245.35M340.42 233.88V239.73M343.34 227.96V234.05M346.26 221.22V226.67M349.18 213.57V219.9M352.1 203.58V209.29M355.02 192.28V198.68M357.94 180.36V185.71M360.86 166.37V172.36M363.78 152.88V157.75M366.7 138.81V143.44M369.62 121.74V128.25M372.54 104.55V109.82M375.46 85.18V89.72M378.38 64.01V69.83" stroke="#ff00ff" stroke-width="3.1" fill="none"/>
<path d="M82.3 47.1h14.0M82.3 47.1h14.0M85.22 63.87h14.0M85.22 69.86h14.0M88.14 83.46h14.0M88.14 89.93h14.0M91.06 104.18h14.0M91.06 109.25h14.0M93.98 123.24h14.0M93.98 128.44h14.0M96.9 138.87h14.0M96.9 143.44h14.0M99.82 152.69h14.0M99.82 159.05h14.0M102.74 167.7h14.0M102.74 172.49h14.0M105.66 179.74h14.0M105.66 185.4h14.0M108.58 192.97h14.0M108.58 198.54h14.0M111.5 203.25h14.0M111.5 209.5h14.0M114.42 214.24h14.0M114.42 219.54h14.0M117.34 222.11h14.0M117.34 226.87h14.0M120.26 227.8h14.0M120.26 233.09h14.0M123.18 234.79h14.0M123.18 239.34h14.0M126.1 239.98h14.0M126.1 245.09h14.0M129.02 245.64h14.0M129.02 251.48h14.0M131.94 251.26h14.0M131.94 255.83h14.0M134.86 255.46h14.0M134.86 262.1h14.0M137.78 260.22h14.0M137.78 265.85h14.0M140.7 264.49h14.0M140.7 269.6h14.0M143.62 268.63h14.0M143.62 274.92h14.0M146.54 273.54h14.0M146.54 278.29h14.0M149.46 278.17h14.0M149.46 283.32h14.0M152.38 281.07h14.0M152.38 287.59h14.0M155.3 284.66h14.0M155.3 289.64h14.0M158.22 286.34h14.0M158.22 292.4h14.0M161.14 289.56h14.0M161.14 294.18h14.0M164.06 291.44h14.0M164.06 297.07h14.0M166.98 293.16h14.0M166.98 299.06h14.0M169.9 295.89h14.0M169.9 300.8h14.0M172.82 297.53h14.0M172.82 302.7h14.0M175.74 298.5h14.0M175.74 304.16h14.0M178.66 300.76h14.0M178.66 306.51h14.0M181.58 302.47h14.0M181.58 307.26h14.0M184.5 303.11h14.0M184.5 308.47h14.0M187.42 304.46h14.0M187.42 311.12h14.0M190.34 306.41h14.0M190.34 311.57h14.0M193.26 307.74h14.0M193.26 313.92h14.0M196.18 308.7h14.0M196.18 313.59h14.0M199.1 311.11h14.0M199.1 316.58h14.0M202.02 311.63h14.0M202.02 317.22h14.0M204.94 312.32h14.0M204.94 318.09h14.0M207.86 311.79h14.0M207.86 317.83h14.0M210.78 312.64h14.0M210.78 318.85h14.0M213.7 313.42h14.0M213.7 319.42h14.0M216.62 314.08h14.0M216.62 320.32h14.0M219.54 313.73h14.0M219.54 320.14h14.0M222.46 314.71h14.0M222.46 319.87h14.0M225.38 314.62h14.0M225.38 320.9h14.0M228.3 315.32h14.0M228.3 320.92h14.0M231.22 315.41h14.0M231.22 320.42h14.0M234.14 314.84h14.0M234.14 319.67h14.0M237.06 313.88h14.0M237.06 320.02h14.0M239.98 313.77h14.0M239.98 319.63h14.0M242.9 314.08h14.0M242.9 318.68h14.0M245.82 313.66h14.0M245.82 319.41h14.0M248.74 313.12h14.0M248.74 317.66h14.0M251.66 312.54h14.0M251.66 317.85h14.0M254.58 311.14h14.0M254.58 316.84h14.0M257.5 309.9h14.0M257.5 315.78h14.0M260.42 309.72h14.0M260.42 314.52h14.0M263.34 308.71h14.0M263.34 313.25h14.0M266.26 306.02h14.0M266.26 311.74h14.0M269.18 304.57h14.0M269.18 310.83h14.0M272.1 303.52h14.0M272.1 309.73h14.0M275.02 303.42h14.0M275.02 308.66h14.0M277.94 300.57h14.0M277.94 306.29h14.0M280.86 298.56h14.0M280.86 304.6h14.0M283.78 296.5h14.0M283.78 302.88h14.0M286.7 295.77h14.0M286.7 301.3h14.0M289.62 293.39h14.0M289.62 299.77h14.0M292.54 291.84h14.0M292.54 296.99h14.0M295.46 289.23h14.0M295.46 294.16h14.0M298.38 287.47h14.0M298.38 292.56h14.0M301.3 283.99h14.0M301.3 290.05h14.0M304.22 281.14h14.0M304.22 287.55h14.0M307.14 277.52h14.0M307.14 283.01h14.0M310.06 273.83h14.0M310.06 279.81h14.0M312.98 269.35h14.0M312.98 274.1h14.0M315.9 264.83h14.0M315.9 270.39h14.0M318.82 260.34h14.0M318.82 265.75h14.0M321.74 255.37h14.0M321.74 260.77h14.0M324.66 250.48h14.0M324.66 255.34h14.0M327.58 245.89h14.0M327.58 251.71h14.0M330.5 239.41h14.0M330.5 245.35h14.0M333.42 233.88h14.0M333.42 239.73h14.0M336.34 227.96h14.0M336.34 234.05h14.0M339.26 221.22h14.0M339.26 226.67h14.0M342.18 213.57h14.0M342.18 219.9h14.0M345.1 203.58h14.0M345.1 209.29h14.0M348.02 192.28h14.0M348.02 198.68h14.0M350.94 180.36h14.0M350.94 185.71h14.0M353.86 166.37h14.0M353.86 172.36h14.0M356.78 152.88h14.0M356.78 157.75h14.0M359.7 138.81h14.0M359.7 143.44h14.0M362.62 121.74h14.0M362.62 128.25h14.0M365.54 104.55h14.0M365.54 109.82h14.0M368.46 85.18h14.0M368.46 89.72h14.0M371.38 64.01h14.0M371.38 69.83h14.0M374.3 47.1h14.0M374.3 47.1h14.0" stroke="#ff00ff" stroke-width="1.8" fill="none"/>
<path d="M85.1 47.1h8.4M88.02 66.87h8.4M90.94 86.69h8.4M93.86 106.71h8.4M96.78 125.84h8.4M99.7 141.15h8.4M102.62 155.87h8.4M105.54 170.1h8.4M108.46 182.57h8.4M111.38 195.75h8.4M114.3 206.38h8.4M117.22 216.89h8.4M120.14 224.49h8.4M123.06 230.45h8.4M125.98 237.07h8.4M128.9 242.53h8.4M131.82 248.56h8.4M134.74 253.54h8.4M137.66 258.78h8.4M140.58 263.04h8.4M143.5 267.05h8.4M146.42 271.78h8.4M149.34 275.92h8.4M152.26 280.74h8.4M155.18 284.33h8.4M158.1 287.15h8.4M161.02 289.37h8.4M163.94 291.87h8.4M166.86 294.26h8.4M169.78 296.11h8.4M172.7 298.34h8.4M175.62 300.11h8.4M178.54 301.33h8.4M181.46 303.63h8.4M184.38 304.86h8.4M187.3 305.79h8.4M190.22 307.79h8.4M193.14 308.99h8.4M196.06 310.83h8.4M198.98 311.15h8.4M201.9 313.85h8.4M204.82 314.42h8.4M207.74 315.2h8.4M210.66 314.81h8.4M213.58 315.75h8.4M216.5 316.42h8.4M219.42 317.2h8.4M222.34 316.93h8.4M225.26 317.29h8.4M228.18 317.76h8.4M231.1 318.12h8.4M234.02 317.91h8.4M236.94 317.25h8.4M239.86 316.95h8.4M242.78 316.7h8.4M245.7 316.38h8.4M248.62 316.53h8.4M251.54 315.39h8.4M254.46 315.2h8.4M257.38 313.99h8.4M260.3 312.84h8.4M263.22 312.12h8.4M266.14 310.98h8.4M269.06 308.88h8.4M271.98 307.7h8.4M274.9 306.62h8.4M277.82 306.04h8.4M280.74 303.43h8.4M283.66 301.58h8.4M286.58 299.69h8.4M289.5 298.54h8.4M292.42 296.58h8.4M295.34 294.41h8.4M298.26 291.69h8.4M301.18 290.02h8.4M304.1 287.02h8.4M307.02 284.35h8.4M309.94 280.26h8.4M312.86 276.82h8.4M315.78 271.72h8.4M318.7 267.61h8.4M321.62 263.04h8.4M324.54 258.07h8.4M327.46 252.91h8.4M330.38 248.8h8.4M333.3 242.38h8.4M336.22 236.81h8.4M339.14 231h8.4M342.06 223.94h8.4M344.98 216.73h8.4M347.9 206.43h8.4M350.82 195.48h8.4M353.74 183.03h8.4M356.66 169.37h8.4M359.58 155.32h8.4M362.5 141.13h8.4M365.42 125h8.4M368.34 107.19h8.4M371.26 87.45h8.4M374.18 66.92h8.4M377.1 47.1h8.4" stroke="#ff00ff" stroke-width="8.4" fill="none"/>
<polyline points="89.3,68.51 95.26,92.47 101.22,123.08 107.18,150.63 113.14,181.62 119.1,209.45 125.06,228.78 131.01,245.13 136.97,258.64 142.93,270.37 148.89,280.41 154.85,289.57 160.81,296.26 166.77,301.81 172.73,307.37 178.69,309.61 184.65,313.64 190.61,317.05 196.57,319.37 202.52,320.61 208.48,322.26 214.44,323.77 220.4,322.97 226.36,324.67 232.32,325.16 238.28,325.78 244.24,324.34 250.2,324.61 256.16,323.52 262.12,321.97 268.08,321.27 274.03,318.79 279.99,316.76 285.95,314.12 291.91,310.43 297.87,306.65 303.83,301.34 309.79,296.17 315.75,289.67 321.71,279.93 327.67,269.34 333.63,258.31 339.59,246.21 345.54,229.65 351.5,209.76 357.46,180.94 363.42,151.13 369.38,123.9 375.34,93.1 381.3,67.9" fill="none" stroke="#00ffff" stroke-width="3.4" stroke-linejoin="round"/>
<path d="M89.3 62.26V74.75M95.26 84.51V100.44M101.22 116.3V129.87M107.18 144.18V157.08M113.14 174.69V188.56M119.1 203.02V215.88M125.06 222.43V235.13M131.01 237.83V252.42M136.97 251.02V266.27M142.93 263.68V277.06M148.89 274.33V286.5M154.85 282.72V296.42M160.81 289.59V302.93M166.77 295.06V308.57M172.73 301.09V313.65M178.69 302.05V317.17M184.65 307.46V319.83M190.61 311.25V322.84M196.57 311.98V326.76M202.52 313.12V328.11M208.48 315.98V328.53M214.44 317.65V329.89M220.4 315.87V330.08M226.36 316.75V332.59M232.32 318.85V331.47M238.28 318.77V332.78M244.24 318V330.68M250.2 317.12V332.11M256.16 316.7V330.35M262.12 315.35V328.58M268.08 313.99V328.56M274.03 311.8V325.77M279.99 310.58V322.95M285.95 307.41V320.82M291.91 302.42V318.45M297.87 299.01V314.29M303.83 294.41V308.28M309.79 288.87V303.46M315.75 283.63V295.72M321.71 273.23V286.63M327.67 261.48V277.21M333.63 252.15V264.46M339.59 238.13V254.28M345.54 221.9V237.4M351.5 202.4V217.12M357.46 174.33V187.54M363.42 145.21V157.05M369.38 117.48V130.31M375.34 85.61V100.59M381.3 61.18V74.62" stroke="#00ffff" stroke-width="3.1" fill="none"/>
<path d="M82.3 62.26h14.0M82.3 74.75h14.0M88.26 84.51h14.0M88.26 100.44h14.0M94.22 116.3h14.0M94.22 129.87h14.0M100.18 144.18h14.0M100.18 157.08h14.0M106.14 174.69h14.0M106.14 188.56h14.0M112.1 203.02h14.0M112.1 215.88h14.0M118.06 222.43h14.0M118.06 235.13h14.0M124.01 237.83h14.0M124.01 252.42h14.0M129.97 251.02h14.0M129.97 266.27h14.0M135.93 263.68h14.0M135.93 277.06h14.0M141.89 274.33h14.0M141.89 286.5h14.0M147.85 282.72h14.0M147.85 296.42h14.0M153.81 289.59h14.0M153.81 302.93h14.0M159.77 295.06h14.0M159.77 308.57h14.0M165.73 301.09h14.0M165.73 313.65h14.0M171.69 302.05h14.0M171.69 317.17h14.0M177.65 307.46h14.0M177.65 319.83h14.0M183.61 311.25h14.0M183.61 322.84h14.0M189.57 311.98h14.0M189.57 326.76h14.0M195.52 313.12h14.0M195.52 328.11h14.0M201.48 315.98h14.0M201.48 328.53h14.0M207.44 317.65h14.0M207.44 329.89h14.0M213.4 315.87h14.0M213.4 330.08h14.0M219.36 316.75h14.0M219.36 332.59h14.0M225.32 318.85h14.0M225.32 331.47h14.0M231.28 318.77h14.0M231.28 332.78h14.0M237.24 318h14.0M237.24 330.68h14.0M243.2 317.12h14.0M243.2 332.11h14.0M249.16 316.7h14.0M249.16 330.35h14.0M255.12 315.35h14.0M255.12 328.58h14.0M261.08 313.99h14.0M261.08 328.56h14.0M267.03 311.8h14.0M267.03 325.77h14.0M272.99 310.58h14.0M272.99 322.95h14.0M278.95 307.41h14.0M278.95 320.82h14.0M284.91 302.42h14.0M284.91 318.45h14.0M290.87 299.01h14.0M290.87 314.29h14.0M296.83 294.41h14.0M296.83 308.28h14.0M302.79 288.87h14.0M302.79 303.46h14.0M308.75 283.63h14.0M308.75 295.72h14.0M314.71 273.23h14.0M314.71 286.63h14.0M320.67 261.48h14.0M320.67 277.21h14.0M326.63 252.15h14.0M326.63 264.46h14.0M332.59 238.13h14.0M332.59 254.28h14.0M338.54 221.9h14.0M338.54 237.4h14.0M344.5 202.4h14.0M344.5 217.12h14.0M350.46 174.33h14.0M350.46 187.54h14.0M356.42 145.21h14.0M356.42 157.05h14.0M362.38 117.48h14.0M362.38 130.31h14.0M368.34 85.61h14.0M368.34 100.59h14.0M374.3 61.18h14.0M374.3 74.62h14.0" stroke="#00ffff" stroke-width="1.8" fill="none"/>
<path d="M85.1 68.51h8.4M91.06 92.47h8.4M97.02 123.08h8.4M102.98 150.63h8.4M108.94 181.62h8.4M114.9 209.45h8.4M120.86 228.78h8.4M126.81 245.13h8.4M132.77 258.64h8.4M138.73 270.37h8.4M144.69 280.41h8.4M150.65 289.57h8.4M156.61 296.26h8.4M162.57 301.81h8.4M168.53 307.37h8.4M174.49 309.61h8.4M180.45 313.64h8.4M186.41 317.05h8.4M192.37 319.37h8.4M198.32 320.61h8.4M204.28 322.26h8.4M210.24 323.77h8.4M216.2 322.97h8.4M222.16 324.67h8.4M228.12 325.16h8.4M234.08 325.78h8.4M240.04 324.34h8.4M246 324.61h8.4M251.96 323.52h8.4M257.92 321.97h8.4M263.88 321.27h8.4M269.83 318.79h8.4M275.79 316.76h8.4M281.75 314.12h8.4M287.71 310.43h8.4M293.67 306.65h8.4M299.63 301.34h8.4M305.59 296.17h8.4M311.55 289.67h8.4M317.51 279.93h8.4M323.47 269.34h8.4M329.43 258.31h8.4M335.39 246.21h8.4M341.34 229.65h8.4M347.3 209.76h8.4M353.26 180.94h8.4M359.22 151.13h8.4M365.18 123.9h8.4M371.14 93.1h8.4M377.1 67.9h8.4" stroke="#00ffff" stroke-width="10.6" fill="none"/>
</g>
<rect x="75" y="16.3" width="321.1" height="339.2" fill="none" stroke="#000" stroke-width="1.8"/>
<path d="M89.3 355.5v-5.8M381.3 355.5v-5.8" stroke="#000" stroke-width="1.5" fill="none"/>
<path d="M75 355.5h5.8M75 293.82h5.8M75 232.14h5.8M75 170.46h5.8M75 108.78h5.8M75 47.1h5.8" stroke="#000" stroke-width="1.5" fill="none"/>
<text transform="translate(38.4,363.1) scale(1.0328,1)" font-size="20.2" stroke="#000" stroke-width="0.28">0.0</text>
<text transform="translate(38.4,301.42) scale(1.0328,1)" font-size="20.2" stroke="#000" stroke-width="0.28">0.1</text>
<text transform="translate(38.4,239.74) scale(1.0328,1)" font-size="20.2" stroke="#000" stroke-width="0.28">0.2</text>
<text transform="translate(38.4,178.06) scale(1.0328,1)" font-size="20.2" stroke="#000" stroke-width="0.28">0.3</text>
<text transform="translate(38.4,116.38) scale(1.0328,1)" font-size="20.2" stroke="#000" stroke-width="0.28">0.4</text>
<text transform="translate(38.4,54.7) scale(1.0328,1)" font-size="20.2" stroke="#000" stroke-width="0.28">0.5</text>
<text transform="translate(83.5,377.8) scale(1.0431,1)" font-size="20.2" stroke="#000" stroke-width="0.28">0</text>
<text transform="translate(375.39,377.8) scale(0.9593,1)" font-size="20.5" font-style="italic" stroke="#000" stroke-width="0.28">β</text>
<text transform="translate(229.2,409.2) scale(1.2059,1)" font-size="27" font-style="italic">τ</text>
<text transform="translate(25.6,210.8) rotate(-90) scale(1.1342,1) translate(0,0)" xml:space="preserve" stroke="#000" stroke-width="0.28"><tspan x="0" y="0" font-size="24" font-style="italic">G</tspan><tspan x="18.67" y="0" font-size="24">(</tspan><tspan x="26.66" y="0" font-size="24" font-style="italic">τ</tspan><tspan x="35.64" y="0" font-size="24">)</tspan></text>
<text transform="translate(8.3,37) scale(1.0216,1)" font-size="20.3" stroke="#000" stroke-width="0.28">(a)</text>
<path d="M182 42.2H225" stroke="#ff0000" stroke-width="3.4"/>
<path d="M203.5 31.9V52.5" stroke="#ff0000" stroke-width="3.1"/>
<path d="M196.5 31.9h14.0M196.5 52.5h14.0" stroke="#ff0000" stroke-width="1.5"/>
<rect x="199.3" y="38" width="8.4" height="8.4" rx="1.2" fill="#ff0000"/>
<text transform="translate(232.8,49.8) scale(1.1123,1)" xml:space="preserve" stroke="#000" stroke-width="0.28"><tspan x="0" y="0" font-size="21" font-style="italic">L</tspan><tspan x="11.68" y="0" font-size="21"> = 3</tspan></text>
<path d="M182 71.1H225" stroke="#0000ff" stroke-width="3.4"/>
<path d="M203.5 60.8V81.4" stroke="#0000ff" stroke-width="3.1"/>
<path d="M196.5 60.8h14.0M196.5 81.4h14.0" stroke="#0000ff" stroke-width="1.5"/>
<rect x="199.3" y="66.9" width="8.4" height="8.4" rx="1.2" fill="#0000ff"/>
<text transform="translate(232.8,78.7) scale(1.1123,1)" xml:space="preserve" stroke="#000" stroke-width="0.28"><tspan x="0" y="0" font-size="21" font-style="italic">L</tspan><tspan x="11.68" y="0" font-size="21"> = 4</tspan></text>
<path d="M182 100.0H225" stroke="#008000" stroke-width="3.4"/>
<path d="M203.5 89.7V110.3" stroke="#008000" stroke-width="3.1"/>
<path d="M196.5 89.7h14.0M196.5 110.3h14.0" stroke="#008000" stroke-width="1.5"/>
<rect x="199.3" y="95.8" width="8.4" height="8.4" rx="1.2" fill="#008000"/>
<text transform="translate(232.8,107.6) scale(1.1123,1)" xml:space="preserve" stroke="#000" stroke-width="0.28"><tspan x="0" y="0" font-size="21" font-style="italic">L</tspan><tspan x="11.68" y="0" font-size="21"> = 5</tspan></text>
<path d="M182 128.9H225" stroke="#ff00ff" stroke-width="3.4"/>
<path d="M203.5 118.6V139.2" stroke="#ff00ff" stroke-width="3.1"/>
<path d="M196.5 118.6h14.0M196.5 139.2h14.0" stroke="#ff00ff" stroke-width="1.5"/>
<rect x="199.3" y="124.7" width="8.4" height="8.4" rx="1.2" fill="#ff00ff"/>
<text transform="translate(232.8,136.5) scale(1.1123,1)" xml:space="preserve" stroke="#000" stroke-width="0.28"><tspan x="0" y="0" font-size="21" font-style="italic">L</tspan><tspan x="11.68" y="0" font-size="21"> = 6</tspan></text>
<path d="M182 157.8H225" stroke="#00ffff" stroke-width="3.4"/>
<path d="M203.5 147.5V168.1" stroke="#00ffff" stroke-width="3.1"/>
<path d="M196.5 147.5h14.0M196.5 168.1h14.0" stroke="#00ffff" stroke-width="1.5"/>
<rect x="199.3" y="153.6" width="8.4" height="8.4" rx="1.2" fill="#00ffff"/>
<text transform="translate(232.8,165.4) scale(1.1123,1)" xml:space="preserve" stroke="#000" stroke-width="0.28"><tspan x="0" y="0" font-size="21" font-style="italic">L</tspan><tspan x="11.68" y="0" font-size="21"> = 8</tspan></text>
<text transform="translate(172,218.7) scale(0.9878,1)" font-size="23.5" font-style="italic" stroke="#000" stroke-width="0.28">u</text>
<text transform="translate(187.1,222.9) scale(0.7806,1)" font-size="18.3" stroke="#000" stroke-width="0.28">0</text>
<text transform="translate(205.6,218.7) scale(1.1225,1)" font-size="23.5" stroke="#000" stroke-width="0.28">=</text>
<text transform="translate(231.8,218.7) scale(1.0504,1)" font-size="23.5" stroke="#000" stroke-width="0.28">90</text>
<text transform="translate(268.7,218.7) scale(1.0452,1)" font-size="23.5" stroke="#000" stroke-width="0.28">meV</text>
<clipPath id="cb"><rect x="493" y="16.3" width="320.7" height="339.2"/></clipPath>
<g clip-path="url(#cb)">
<polyline points="493,299.77 497.01,297.93 501.02,296.02 505.03,294.06 509.04,292.04 513.04,289.96 517.05,287.82 521.06,285.62 525.07,283.36 529.08,281.04 533.09,278.66 537.1,276.23 541.11,273.73 545.11,271.18 549.12,268.56 553.13,265.89 557.14,263.16 561.15,260.36 565.16,257.51 569.17,254.6 573.17,251.63 577.18,248.6 581.19,245.52 585.2,242.37 589.21,239.16 593.22,235.9 597.23,232.57 601.24,229.19 605.25,225.75 609.25,222.24 613.26,218.68 617.27,215.06 621.28,211.38 625.29,207.64 629.3,203.85 633.31,199.99 637.32,196.07 641.32,192.1 645.33,188.06 649.34,183.97 653.35,179.81 657.36,175.6 661.37,171.33 665.38,167 669.38,162.61 673.39,158.16 677.4,153.65 681.41,149.08 685.42,144.45 689.43,139.77 693.44,135.02 697.45,130.22 701.46,125.35 705.46,120.43 709.47,115.45 713.48,110.41 717.49,105.31 721.5,100.15 725.51,94.93 729.52,89.65 733.52,84.31 737.53,78.91 741.54,73.46 745.55,67.94 749.56,62.37 753.57,56.73 757.58,51.04 761.59,45.29 765.6,39.48 769.6,33.61 773.61,27.68 777.62,21.69 781.63,15.64 785.64,9.53 789.65,3.37 793.66,-2.86 797.66,-9.14 801.67,-15.49 805.68,-21.89 809.69,-28.35 813.7,-34.87" fill="none" stroke="#f00" stroke-width="2.4"/>
<path d="M593.22 227.08V246.47" stroke="#f00" stroke-width="1.5"/>
<path d="M586.42 227.08h13.6M586.42 246.47h13.6" stroke="#f00" stroke-width="1.6"/>
<rect x="589.22" y="232.77" width="8.0" height="8.0" fill="#f00"/>
<path d="M626.62 197.52V215.45" stroke="#f00" stroke-width="1.5"/>
<path d="M619.83 197.52h13.6M619.83 215.45h13.6" stroke="#f00" stroke-width="1.6"/>
<rect x="622.62" y="202.49" width="8.0" height="8.0" fill="#f00"/>
<path d="M653.35 170.87V188.8" stroke="#f00" stroke-width="1.5"/>
<path d="M646.55 170.87h13.6M646.55 188.8h13.6" stroke="#f00" stroke-width="1.6"/>
<rect x="649.35" y="175.83" width="8.0" height="8.0" fill="#f00"/>
<path d="M693.44 127.25V145.18" stroke="#f00" stroke-width="1.5"/>
<path d="M686.64 127.25h13.6M686.64 145.18h13.6" stroke="#f00" stroke-width="1.6"/>
<rect x="689.44" y="132.22" width="8.0" height="8.0" fill="#f00"/>
<path d="M760.25 37.84V57.71" stroke="#f00" stroke-width="1.5"/>
<path d="M753.45 37.84h13.6M753.45 57.71h13.6" stroke="#f00" stroke-width="1.6"/>
<rect x="756.25" y="43.78" width="8.0" height="8.0" fill="#f00"/>
</g>
<rect x="493" y="16.3" width="320.7" height="339.2" fill="none" stroke="#000" stroke-width="1.8"/>
<path d="M573.17 355.5v-5.8M653.35 355.5v-5.8M733.52 355.5v-5.8" stroke="#000" stroke-width="1.5" fill="none"/>
<path d="M493 307.04h5.8M493 258.58h5.8M493 210.12h5.8M493 161.66h5.8M493 113.2h5.8M493 64.74h5.8" stroke="#000" stroke-width="1.5" fill="none"/>
<text transform="translate(448.16,362.4) scale(1.0000,1)" font-size="19.2">0.00</text>
<text transform="translate(448.16,313.94) scale(1.0000,1)" font-size="19.2">0.02</text>
<text transform="translate(448.16,265.48) scale(1.0000,1)" font-size="19.2">0.04</text>
<text transform="translate(448.16,217.02) scale(1.0000,1)" font-size="19.2">0.06</text>
<text transform="translate(448.16,168.56) scale(1.0000,1)" font-size="19.2">0.08</text>
<text transform="translate(448.16,120.1) scale(1.0000,1)" font-size="19.2">0.10</text>
<text transform="translate(448.16,71.64) scale(1.0000,1)" font-size="19.2">0.12</text>
<text transform="translate(448.16,23.18) scale(1.0000,1)" font-size="19.2">0.14</text>
<text transform="translate(479.06,375.8) scale(1.0000,1)" font-size="19.2">0.0</text>
<text transform="translate(559.23,375.8) scale(1.0000,1)" font-size="19.2">0.1</text>
<text transform="translate(639.41,375.8) scale(1.0000,1)" font-size="19.2">0.2</text>
<text transform="translate(719.58,375.8) scale(1.0000,1)" font-size="19.2">0.3</text>
<text transform="translate(799.76,375.8) scale(1.0000,1)" font-size="19.2">0.4</text>
<text transform="translate(636.3,402.3) scale(1.0601,1)" xml:space="preserve"><tspan x="0" y="0" font-size="22.4">1/</tspan><tspan x="18.68" y="0" font-size="22.4" font-style="italic">L</tspan></text>
<text transform="translate(436.4,221.2) rotate(-90) scale(1.0430,1) translate(0,0)" xml:space="preserve"><tspan x="0" y="0" font-size="23.6" font-style="italic">G</tspan><tspan x="18.36" y="0" font-size="23.6">(</tspan><tspan x="26.21" y="0" font-size="23.6" font-style="italic">β</tspan><tspan x="39.7" y="0" font-size="23.6">/2)</tspan></text>
<text transform="translate(426.2,39.8) scale(1.0164,1)" font-size="20">(b)</text>
<clipPath id="cc"><rect x="75" y="424.1" width="321.1" height="339"/></clipPath>
<g clip-path="url(#cc)">
<polyline points="89.45,748 90.18,748 90.91,748 91.64,748 92.37,747.99 93.1,747.99 93.83,747.98 94.56,747.98 95.29,747.97 96.02,747.97 96.75,747.96 97.48,747.95 98.21,747.94 98.94,747.93 99.67,747.92 100.4,747.91 101.13,747.9 101.86,747.88 102.59,747.87 103.32,747.86 104.05,747.84 104.77,747.83 105.5,747.81 106.23,747.79 106.96,747.78 107.69,747.76 108.42,747.74 109.15,747.72 109.88,747.7 110.61,747.68 111.34,747.66 112.07,747.64 112.8,747.62 113.53,747.6 114.26,747.57 114.99,747.55 115.72,747.53 116.45,747.5 117.18,747.48 117.91,747.45 118.64,747.43 119.37,747.4 120.1,747.37 120.83,747.33 121.56,747.29 122.29,747.25 123.02,747.2 123.75,747.14 124.48,747.09 125.21,747.03 125.94,746.96 126.67,746.89 127.4,746.82 128.13,746.74 128.86,746.66 129.59,746.57 130.32,746.49 131.05,746.39 131.78,746.3 132.51,746.2 133.24,746.1 133.96,745.99 134.69,745.86 135.42,745.72 136.15,745.56 136.88,745.39 137.61,745.2 138.34,745 139.07,744.79 139.8,744.56 140.53,744.32 141.26,744.06 141.99,743.8 142.72,743.52 143.45,743.23 144.18,742.92 144.91,742.61 145.64,742.26 146.37,741.88 147.1,741.46 147.83,740.99 148.56,740.49 149.29,739.94 150.02,739.34 150.75,738.7 151.48,738.01 152.21,737.27 152.94,736.47 153.67,735.51 154.4,734.42 155.13,733.18 155.86,731.81 156.59,730.32 157.32,728.72 158.05,727.02 158.78,725.19 159.51,723.12 160.24,720.76 160.97,718.12 161.7,715.15 162.43,711.85 163.15,707.73 163.88,702.69 164.61,697.32 165.34,691.91 166.07,686.08 166.8,679.69 167.53,672.87 168.26,665.64 168.99,658.02 169.72,649.96 170.45,641.16 171.18,631.87 171.91,622.45 172.64,612.83 173.37,602.95 174.1,593.26 174.83,583.56 175.56,573.33 176.29,562.07 177.02,549.08 177.75,534.18 178.48,518.28 179.21,502.3 179.94,486.64 180.67,469.12 181.4,454.67 182.13,447.49 182.86,442.41 183.59,439.88 184.32,440.3 185.05,442.02 185.78,448.26 186.51,463.32 187.24,481.12 187.97,495.44 188.7,506.21 189.43,516.3 190.16,527.31 190.89,540.25 191.62,554.14 192.34,568.02 193.07,582.45 193.8,596.73 194.53,610 195.26,621.7 195.99,632.67 196.72,642.94 197.45,652.46 198.18,661.14 198.91,669.01 199.64,676.18 200.37,682.54 201.1,688.19 201.83,693.79 202.56,699.1 203.29,703.79 204.02,707.52 204.75,709.95 205.48,711.55 206.21,712.99 206.94,714.29 207.67,715.44 208.4,716.45 209.13,717.32 209.86,718.05 210.59,718.65 211.32,719.12 212.05,719.46 212.78,719.73 213.51,719.99 214.24,720.23 214.97,720.45 215.7,720.65 216.43,720.83 217.16,720.99 217.89,721.12 218.62,721.22 219.35,721.3 220.08,721.35 220.81,721.37 221.53,721.25 222.26,720.9 222.99,720.34 223.72,719.58 224.45,718.65 225.18,717.56 225.91,715.34 226.64,711.64 227.37,707.22 228.1,701.78 228.83,695.03 229.56,686.7 230.29,676.54 231.02,662.41 231.75,638.88 232.48,610.56 233.21,582.51 233.94,546.9 234.67,512.37 235.4,496.87 236.13,512.37 236.86,546.9 237.59,582.51 238.32,610.43 239.05,638.5 239.78,662.06 240.51,676.87 241.24,687.73 241.97,696.69 242.7,704.11 243.43,710.38 244.16,715.97 244.89,721.57 245.62,726.61 246.35,730.24 247.08,731.64 247.81,731.61 248.54,731.53 249.27,731.41 250,731.25 250.72,731.07 251.45,730.88 252.18,730.63 252.91,730.3 253.64,729.89 254.37,729.39 255.1,728.83 255.83,728.2 256.56,727.52 257.29,726.78 258.02,725.99 258.75,725.17 259.48,724.31 260.21,723.39 260.94,722.36 261.67,721.18 262.4,719.82 263.13,718.23 263.86,716.36 264.59,714.19 265.32,711.66 266.05,708.35 266.78,701.45 267.51,692.27 268.24,683.06 268.97,673.67 269.7,663.55 270.43,652.88 271.16,641.1 271.89,628.53 272.62,616.62 273.35,606.15 274.08,596.34 274.81,587.01 275.54,578 276.27,569.16 277,560.17 277.73,550.95 278.46,541.71 279.19,532.66 279.91,524.03 280.64,516.03 281.37,508.87 282.1,502.77 282.83,497.72 283.56,493.08 284.29,489.13 285.02,486.23 285.75,484.48 286.48,483.19 287.21,482.82 287.94,483.56 288.67,485.09 289.4,489.26 290.13,498.87 290.86,511.1 291.59,522.96 292.32,532.84 293.05,542.69 293.78,553.61 294.51,566.41 295.24,578.72 295.97,588.02 296.7,595.24 297.43,603.06 298.16,614.5 298.89,628.89 299.62,641.48 300.35,649.74 301.08,656.45 301.81,662.3 302.54,667.85 303.27,673.67 304,679.5 304.73,685.21 305.46,691.22 306.19,697.16 306.92,701.67 307.65,705.29 308.38,708.44 309.1,711.22 309.83,713.75 310.56,716.13 311.29,718.36 312.02,720.44 312.75,722.37 313.48,724.13 314.21,725.73 314.94,727.15 315.67,728.45 316.4,729.66 317.13,730.77 317.86,731.82 318.59,732.8 319.32,733.74 320.05,734.65 320.78,735.55 321.51,736.42 322.24,737.22 322.97,737.94 323.7,738.56 324.43,739.05 325.16,739.5 325.89,739.92 326.62,740.31 327.35,740.68 328.08,741.03 328.81,741.35 329.54,741.65 330.27,741.93 331,742.2 331.73,742.44 332.46,742.67 333.19,742.89 333.92,743.09 334.65,743.29 335.38,743.48 336.11,743.67 336.84,743.85 337.56,744.03 338.29,744.2 339.02,744.37 339.75,744.53 340.48,744.69 341.21,744.85 341.94,745 342.67,745.14 343.4,745.28 344.13,745.41 344.86,745.54 345.59,745.66 346.32,745.77 347.05,745.88 347.78,745.99 348.51,746.09 349.24,746.18 349.97,746.26 350.7,746.34 351.43,746.41 352.16,746.48 352.89,746.54 353.62,746.6 354.35,746.66 355.08,746.72 355.81,746.78 356.54,746.84 357.27,746.9 358,746.95 358.73,747.01 359.46,747.07 360.19,747.12 360.92,747.17 361.65,747.22 362.38,747.27 363.11,747.32 363.84,747.37 364.57,747.42 365.3,747.46 366.03,747.51 366.75,747.55 367.48,747.59 368.21,747.63 368.94,747.67 369.67,747.7 370.4,747.74 371.13,747.77 371.86,747.8 372.59,747.83 373.32,747.85 374.05,747.88 374.78,747.9 375.51,747.92 376.24,747.94 376.97,747.96 377.7,747.97 378.43,747.98 379.16,747.99 379.89,747.99 380.62,748 381.35,748" fill="none" stroke="#ff0000" stroke-width="3.2" stroke-linejoin="round" stroke-linecap="square"/>
<polyline points="89.45,746.1 90.18,746.07 90.91,746.03 91.64,745.98 92.37,745.93 93.1,745.88 93.83,745.82 94.56,745.75 95.29,745.68 96.02,745.61 96.75,745.53 97.48,745.45 98.21,745.36 98.94,745.27 99.67,745.18 100.4,745.08 101.13,744.99 101.86,744.89 102.59,744.78 103.32,744.68 104.05,744.58 104.77,744.47 105.5,744.35 106.23,744.23 106.96,744.11 107.69,743.98 108.42,743.84 109.15,743.7 109.88,743.54 110.61,743.39 111.34,743.22 112.07,743.05 112.8,742.87 113.53,742.68 114.26,742.49 114.99,742.29 115.72,742.08 116.45,741.86 117.18,741.63 117.91,741.4 118.64,741.15 119.37,740.89 120.1,740.6 120.83,740.28 121.56,739.93 122.29,739.56 123.02,739.17 123.75,738.76 124.48,738.32 125.21,737.87 125.94,737.4 126.67,736.91 127.4,736.41 128.13,735.9 128.86,735.37 129.59,734.83 130.32,734.28 131.05,733.72 131.78,733.16 132.51,732.59 133.24,732.02 133.96,731.43 134.69,730.82 135.42,730.17 136.15,729.49 136.88,728.77 137.61,728 138.34,727.18 139.07,726.31 139.8,725.36 140.53,724.32 141.26,723.19 141.99,721.99 142.72,720.71 143.45,719.36 144.18,717.96 144.91,716.5 145.64,714.99 146.37,713.4 147.1,711.72 147.83,709.93 148.56,708.01 149.29,705.96 150.02,703.75 150.75,701.34 151.48,698.56 152.21,695.43 152.94,692.04 153.67,688.47 154.4,684.81 155.13,681.05 155.86,677.05 156.59,672.85 157.32,668.51 158.05,664.07 158.78,659.56 159.51,655.05 160.24,650.47 160.97,645.51 161.7,640.43 162.43,635.55 163.15,631.17 163.88,627.54 164.61,624.42 165.34,621.6 166.07,618.99 166.8,616.47 167.53,613.95 168.26,611.73 168.99,609.65 169.72,607.3 170.45,604.2 171.18,599.1 171.91,593.31 172.64,588.92 173.37,585.34 174.1,582.11 174.83,579.14 175.56,576.35 176.29,573.66 177.02,570.99 177.75,568.25 178.48,565.36 179.21,562.34 179.94,559.29 180.67,556.24 181.4,553.23 182.13,550.31 182.86,547.43 183.59,544.08 184.32,540.67 185.05,537.84 185.78,536.22 186.51,536.68 187.24,540.14 187.97,546.06 188.7,553.73 189.43,562.47 190.16,571.58 190.89,580.45 191.62,590.63 192.34,602.44 193.07,616.38 193.8,631.3 194.53,642.96 195.26,653.11 195.99,662.77 196.72,673.26 197.45,682.47 198.18,687.48 198.91,691.44 199.64,694.88 200.37,697.88 201.1,700.5 201.83,702.79 202.56,704.82 203.29,706.65 204.02,708.34 204.75,709.95 205.48,711.52 206.21,713.04 206.94,714.49 207.67,715.86 208.4,717.12 209.13,718.27 209.86,719.28 210.59,720.15 211.32,720.85 212.05,721.37 212.78,721.78 213.51,722.18 214.24,722.55 214.97,722.91 215.7,723.23 216.43,723.52 217.16,723.78 217.89,724 218.62,724.17 219.35,724.3 220.08,724.38 220.81,724.41 221.53,724.33 222.26,724.08 222.99,723.69 223.72,723.16 224.45,722.5 225.18,721.72 225.91,720.83 226.64,719.84 227.37,718.25 228.1,715.65 228.83,712.2 229.56,708.05 230.29,702.37 231.02,694.35 231.75,684.14 232.48,671.9 233.21,652.2 233.94,630.04 234.67,609.53 235.4,598.08 236.13,611.05 236.86,633.85 237.59,657.07 238.32,677.61 239.05,690.96 239.78,702.24 240.51,711.19 241.24,717.56 241.97,722.16 242.7,725.93 243.43,728.85 244.16,730.88 244.89,732.4 245.62,733.82 246.35,735.09 247.08,736.19 247.81,737.07 248.54,737.7 249.27,738.05 250,738.1 250.72,737.97 251.45,737.73 252.18,737.37 252.91,736.9 253.64,736.35 254.37,735.72 255.1,735.02 255.83,734.26 256.56,733.45 257.29,732.61 258.02,731.75 258.75,730.88 259.48,729.96 260.21,728.95 260.94,727.82 261.67,726.57 262.4,725.18 263.13,723.62 263.86,721.88 264.59,719.95 265.32,717.81 266.05,715.44 266.78,712.83 267.51,709.95 268.24,705.71 268.97,699.57 269.7,692.34 270.43,684.84 271.16,677.24 271.89,669.06 272.62,660.05 273.35,649.99 274.08,638.48 274.81,624.19 275.54,608.19 276.27,590.79 277,571.69 277.73,553.94 278.46,539.04 279.19,525.03 279.91,507.68 280.64,503.48 281.37,511.36 282.1,521.74 282.83,529.14 283.56,535.72 284.29,541.89 285.02,547.65 285.75,552.94 286.48,557.75 287.21,562.13 287.94,566.22 288.67,570.18 289.4,574.15 290.13,578.05 290.86,581.86 291.59,585.59 292.32,589.26 293.05,592.77 293.78,596.2 294.51,599.69 295.24,603.38 295.97,607.42 296.7,611.93 297.43,616.73 298.16,621.6 298.89,626.34 299.62,630.73 300.35,634.57 301.08,638 301.81,641.19 302.54,644.19 303.27,647.07 304,649.87 304.73,652.66 305.46,655.49 306.19,658.42 306.92,661.46 307.65,664.56 308.38,667.64 309.1,670.66 309.83,673.54 310.56,676.22 311.29,678.6 312.02,680.77 312.75,682.97 313.48,685.17 314.21,687.35 314.94,689.54 315.67,691.72 316.4,693.91 317.13,696.14 317.86,698.43 318.59,700.75 319.32,703.04 320.05,705.24 320.78,707.3 321.51,709.17 322.24,710.91 322.97,712.58 323.7,714.18 324.43,715.71 325.16,717.16 325.89,718.54 326.62,719.85 327.35,721.1 328.08,722.3 328.81,723.48 329.54,724.61 330.27,725.7 331,726.74 331.73,727.72 332.46,728.64 333.19,729.49 333.92,730.27 334.65,731 335.38,731.71 336.11,732.38 336.84,733.04 337.56,733.66 338.29,734.26 339.02,734.83 339.75,735.38 340.48,735.9 341.21,736.39 341.94,736.86 342.67,737.31 343.4,737.73 344.13,738.12 344.86,738.5 345.59,738.86 346.32,739.21 347.05,739.54 347.78,739.86 348.51,740.16 349.24,740.45 349.97,740.74 350.7,741.01 351.43,741.27 352.16,741.53 352.89,741.79 353.62,742.04 354.35,742.3 355.08,742.55 355.81,742.79 356.54,743.03 357.27,743.26 358,743.48 358.73,743.69 359.46,743.89 360.19,744.07 360.92,744.24 361.65,744.39 362.38,744.53 363.11,744.64 363.84,744.76 364.57,744.87 365.3,744.98 366.03,745.09 366.75,745.2 367.48,745.31 368.21,745.41 368.94,745.51 369.67,745.61 370.4,745.7 371.13,745.79 371.86,745.88 372.59,745.96 373.32,746.04 374.05,746.11 374.78,746.17 375.51,746.23 376.24,746.29 376.97,746.34 377.7,746.38 378.43,746.41 379.16,746.44 379.89,746.46 380.62,746.47 381.35,746.48" fill="none" stroke="#0000ff" stroke-width="3.2" stroke-linejoin="round" stroke-linecap="square"/>
<polyline points="89.45,746.1 90.18,746.03 90.91,745.95 91.64,745.87 92.37,745.78 93.1,745.69 93.83,745.59 94.56,745.49 95.29,745.39 96.02,745.27 96.75,745.16 97.48,745.04 98.21,744.92 98.94,744.79 99.67,744.66 100.4,744.52 101.13,744.39 101.86,744.25 102.59,744.11 103.32,743.96 104.05,743.81 104.77,743.67 105.5,743.52 106.23,743.36 106.96,743.21 107.69,743.04 108.42,742.88 109.15,742.71 109.88,742.53 110.61,742.34 111.34,742.15 112.07,741.95 112.8,741.74 113.53,741.52 114.26,741.29 114.99,741.04 115.72,740.79 116.45,740.52 117.18,740.24 117.91,739.94 118.64,739.63 119.37,739.27 120.1,738.85 120.83,738.38 121.56,737.85 122.29,737.28 123.02,736.68 123.75,736.05 124.48,735.4 125.21,734.74 125.94,734.07 126.67,733.41 127.4,732.73 128.13,732.03 128.86,731.29 129.59,730.54 130.32,729.75 131.05,728.93 131.78,728.09 132.51,727.21 133.24,726.31 133.96,725.37 134.69,724.38 135.42,723.35 136.15,722.27 136.88,721.15 137.61,719.99 138.34,718.79 139.07,717.56 139.8,716.32 140.53,715.07 141.26,713.78 141.99,712.43 142.72,710.98 143.45,709.41 144.18,707.67 144.91,705.74 145.64,703.52 146.37,700.99 147.1,698.16 147.83,695.03 148.56,691.63 149.29,687.96 150.02,684.02 150.75,679.44 151.48,674.15 152.21,668.34 152.94,662.16 153.67,655.81 154.4,649.35 155.13,642.49 155.86,635.21 156.59,627.52 157.32,619.24 158.05,609.9 158.78,600.19 159.51,590.92 160.24,582.86 160.97,574.71 161.7,566.29 162.43,558.45 163.15,552.02 163.88,547.85 164.61,546.74 165.34,547.44 166.07,549.01 166.8,551.24 167.53,553.95 168.26,556.96 168.99,560.06 169.72,563.08 170.45,566.37 171.18,570.29 171.91,574.65 172.64,579.24 173.37,583.85 174.1,588.28 174.83,592.33 175.56,595.8 176.29,598.71 177.02,601.28 177.75,603.64 178.48,605.91 179.21,608.19 179.94,610.61 180.67,613.28 181.4,616.28 182.13,619.53 182.86,623 183.59,626.69 184.32,630.59 185.05,634.7 185.78,639.26 186.51,644.19 187.24,649.27 187.97,654.25 188.7,659.48 189.43,665 190.16,670.51 190.89,675.73 191.62,680.39 192.34,684.2 193.07,687.23 193.8,690.06 194.53,692.71 195.26,695.19 195.99,697.5 196.72,699.66 197.45,701.67 198.18,703.54 198.91,705.27 199.64,706.86 200.37,708.34 201.1,709.69 201.83,710.95 202.56,712.17 203.29,713.32 204.02,714.43 204.75,715.49 205.48,716.5 206.21,717.45 206.94,718.36 207.67,719.21 208.4,720.02 209.13,720.77 209.86,721.47 210.59,722.12 211.32,722.72 212.05,723.27 212.78,723.79 213.51,724.32 214.24,724.84 214.97,725.36 215.7,725.86 216.43,726.34 217.16,726.79 217.89,727.22 218.62,727.62 219.35,727.97 220.08,728.28 220.81,728.54 221.53,728.74 222.26,728.88 222.99,728.96 223.72,728.97 224.45,728.92 225.18,728.81 225.91,728.65 226.64,728.44 227.37,728.17 228.1,727.85 228.83,727.49 229.56,727.07 230.29,726.34 231.02,724.98 231.75,722.96 232.48,720.25 233.21,716.4 233.94,701.39 234.67,681.7 235.4,671.9 236.13,682.49 236.86,703.8 237.59,720.09 238.32,724.37 239.05,727.39 239.78,729.64 240.51,731.17 241.24,732.02 241.97,732.52 242.7,732.97 243.43,733.36 244.16,733.71 244.89,734.01 245.62,734.25 246.35,734.44 247.08,734.57 247.81,734.66 248.54,734.68 249.27,734.64 250,734.52 250.72,734.33 251.45,734.06 252.18,733.74 252.91,733.36 253.64,732.93 254.37,732.45 255.1,731.93 255.83,731.39 256.56,730.81 257.29,730.21 258.02,729.6 258.75,728.98 259.48,728.28 260.21,727.47 260.94,726.54 261.67,725.5 262.4,724.35 263.13,723.09 263.86,721.74 264.59,720.3 265.32,718.76 266.05,717.15 266.78,715.45 267.51,713.68 268.24,711.85 268.97,709.95 269.7,707.83 270.43,705.35 271.16,702.58 271.89,699.57 272.62,696.37 273.35,693.04 274.08,689.63 274.81,686.2 275.54,682.77 276.27,679.19 277,675.47 277.73,671.62 278.46,667.64 279.19,663.54 279.91,659.33 280.64,655.01 281.37,650.54 282.1,645.77 282.83,640.82 283.56,635.83 284.29,630.88 285.02,625.88 285.75,620.84 286.48,615.82 287.21,610.88 287.94,605.94 288.67,600.33 289.4,595.08 290.13,591.6 290.86,590.14 291.59,589.01 292.32,588.08 293.05,587.33 293.78,586.69 294.51,586.13 295.24,585.61 295.97,585.07 296.7,584.47 297.43,583.78 298.16,583 298.89,582.24 299.62,581.46 300.35,580.66 301.08,579.8 301.81,578.86 302.54,577.71 303.27,576.42 304,575.11 304.73,573.91 305.46,572.97 306.19,572.17 306.92,571.45 307.65,571.08 308.38,571.77 309.1,574.4 309.83,580.7 310.56,599.87 311.29,617.68 312.02,630.6 312.75,637.96 313.48,643.82 314.21,648.61 314.94,652.77 315.67,656.72 316.4,660.92 317.13,665.65 317.86,670.44 318.59,675.01 319.32,679.14 320.05,682.77 320.78,686.16 321.51,689.35 322.24,692.35 322.97,695.16 323.7,697.79 324.43,700.27 325.16,702.67 325.89,704.97 326.62,707.18 327.35,709.27 328.08,711.24 328.81,713.06 329.54,714.73 330.27,716.24 331,717.65 331.73,718.96 332.46,720.19 333.19,721.36 333.92,722.47 334.65,723.53 335.38,724.55 336.11,725.53 336.84,726.5 337.56,727.46 338.29,728.39 339.02,729.3 339.75,730.18 340.48,731.02 341.21,731.83 341.94,732.58 342.67,733.28 343.4,733.92 344.13,734.52 344.86,735.1 345.59,735.65 346.32,736.17 347.05,736.68 347.78,737.16 348.51,737.62 349.24,738.06 349.97,738.48 350.7,738.89 351.43,739.27 352.16,739.63 352.89,739.98 353.62,740.32 354.35,740.66 355.08,740.99 355.81,741.31 356.54,741.62 357.27,741.92 358,742.2 358.73,742.47 359.46,742.73 360.19,742.96 360.92,743.18 361.65,743.38 362.38,743.56 363.11,743.72 363.84,743.88 364.57,744.03 365.3,744.19 366.03,744.34 366.75,744.49 367.48,744.64 368.21,744.78 368.94,744.92 369.67,745.06 370.4,745.19 371.13,745.32 371.86,745.44 372.59,745.55 373.32,745.66 374.05,745.76 374.78,745.86 375.51,745.94 376.24,746.02 376.97,746.09 377.7,746.15 378.43,746.2 379.16,746.24 379.89,746.26 380.62,746.28 381.35,746.29" fill="none" stroke="#008000" stroke-width="3.2" stroke-linejoin="round" stroke-linecap="square"/>
<polyline points="89.45,745.72 90.18,745.63 90.91,745.54 91.64,745.43 92.37,745.31 93.1,745.19 93.83,745.05 94.56,744.9 95.29,744.74 96.02,744.57 96.75,744.4 97.48,744.21 98.21,744.02 98.94,743.82 99.67,743.62 100.4,743.41 101.13,743.19 101.86,742.98 102.59,742.75 103.32,742.52 104.05,742.29 104.77,742.05 105.5,741.8 106.23,741.54 106.96,741.27 107.69,740.98 108.42,740.68 109.15,740.37 109.88,740.04 110.61,739.71 111.34,739.35 112.07,738.99 112.8,738.61 113.53,738.22 114.26,737.81 114.99,737.39 115.72,736.95 116.45,736.5 117.18,736.04 117.91,735.56 118.64,735.06 119.37,734.52 120.1,733.92 120.83,733.26 121.56,732.55 122.29,731.8 123.02,731.02 123.75,730.21 124.48,729.39 125.21,728.56 125.94,727.73 126.67,726.91 127.4,726.09 128.13,725.26 128.86,724.41 129.59,723.55 130.32,722.66 131.05,721.73 131.78,720.77 132.51,719.76 133.24,718.7 133.96,717.59 134.69,716.42 135.42,715.18 136.15,713.89 136.88,712.53 137.61,711.11 138.34,709.61 139.07,708.05 139.8,706.46 140.53,704.85 141.26,703.16 141.99,701.36 142.72,699.38 143.45,697.17 144.18,694.68 144.91,691.81 145.64,687.63 146.37,682.99 147.1,678.15 147.83,673.08 148.56,667.85 149.29,662.58 150.02,657.35 150.75,652.24 151.48,647.07 152.21,641.82 152.94,636.62 153.67,631.61 154.4,626.93 155.13,622.71 155.86,618.97 156.59,615.52 157.32,612.16 158.05,608.7 158.78,604.93 159.51,600.69 160.24,596.13 160.97,591.52 161.7,587.12 162.43,582.85 163.15,578.36 163.88,574.08 164.61,570.48 165.34,568.02 166.07,566.33 166.8,564.9 167.53,564 168.26,563.93 168.99,564.9 169.72,566.64 170.45,568.81 171.18,571.07 171.91,573.72 172.64,577.1 173.37,580.91 174.1,584.85 174.83,588.65 175.56,592 176.29,595.1 177.02,598.21 177.75,601.09 178.48,603.5 179.21,605.22 179.94,606.43 180.67,607.37 181.4,608.13 182.13,608.81 182.86,609.53 183.59,610.37 184.32,611.45 185.05,612.87 185.78,615.03 186.51,617.93 187.24,621.36 187.97,625.12 188.7,629.71 189.43,635.15 190.16,641.12 190.89,647.26 191.62,653.26 192.34,659.23 193.07,665.42 193.8,671.67 194.53,677.82 195.26,683.7 195.99,689.56 196.72,695.76 197.45,701.66 198.18,706.61 198.91,709.95 199.64,712.19 200.37,714.27 201.1,716.21 201.83,718.01 202.56,719.69 203.29,721.23 204.02,722.67 204.75,723.99 205.48,725.21 206.21,726.34 206.94,727.38 207.67,728.34 208.4,729.22 209.13,730.04 209.86,730.8 210.59,731.5 211.32,732.16 212.05,732.78 212.78,733.38 213.51,733.98 214.24,734.57 214.97,735.14 215.7,735.7 216.43,736.23 217.16,736.75 217.89,737.23 218.62,737.68 219.35,738.09 220.08,738.46 220.81,738.79 221.53,739.07 222.26,739.3 222.99,739.47 223.72,739.58 224.45,739.63 225.18,739.62 225.91,739.59 226.64,739.52 227.37,739.43 228.1,739.3 228.83,739.13 229.56,738.92 230.29,738.66 231.02,738.11 231.75,735.23 232.48,730.2 233.21,723.4 233.94,705.19 234.67,682.82 235.4,671.9 236.13,683.86 236.86,708.13 237.59,727.29 238.32,733.4 239.05,737.7 239.78,740.1 240.51,740.51 241.24,740.7 241.97,740.86 242.7,741 243.43,741.12 244.16,741.22 244.89,741.31 245.62,741.38 246.35,741.43 247.08,741.47 247.81,741.5 248.54,741.52 249.27,741.53 250,741.52 250.72,741.44 251.45,741.28 252.18,741.03 252.91,740.72 253.64,740.35 254.37,739.91 255.1,739.44 255.83,738.92 256.56,738.37 257.29,737.79 258.02,737.19 258.75,736.59 259.48,735.95 260.21,735.26 260.94,734.5 261.67,733.66 262.4,732.74 263.13,731.72 263.86,730.6 264.59,729.37 265.32,728.02 266.05,726.53 266.78,724.9 267.51,723.12 268.24,721.19 268.97,719.08 269.7,716.79 270.43,714.32 271.16,711.65 271.89,708.43 272.62,702.16 273.35,694.05 274.08,686.19 274.81,679.72 275.54,673.55 276.27,667.55 277,661.62 277.73,655.66 278.46,649.57 279.19,643.28 279.91,636.99 280.64,630.95 281.37,625.38 282.1,620.39 282.83,615.82 283.56,611.53 284.29,607.36 285.02,603.47 285.75,600.79 286.48,598.72 287.21,596.96 287.94,595.32 288.67,593.68 289.4,592.18 290.13,590.8 290.86,589.5 291.59,588.24 292.32,586.99 293.05,585.71 293.78,584.35 294.51,582.88 295.24,581.26 295.97,579.45 296.7,577.05 297.43,573.95 298.16,571.33 298.89,569.98 299.62,568.92 300.35,568.12 301.08,567.68 301.81,567.95 302.54,569.55 303.27,571.89 304,574.37 304.73,577.54 305.46,581.3 306.19,585.36 306.92,589.46 307.65,593.83 308.38,598.46 309.1,603.23 309.83,608.27 310.56,613.53 311.29,618.84 312.02,624.03 312.75,628.9 313.48,633.5 314.21,637.96 314.94,642.29 315.67,646.52 316.4,650.63 317.13,654.66 317.86,658.61 318.59,662.57 319.32,666.53 320.05,670.42 320.78,674.15 321.51,677.64 322.24,680.82 322.97,683.63 323.7,686.16 324.43,688.48 325.16,690.64 325.89,692.71 326.62,694.73 327.35,696.76 328.08,698.86 328.81,701.08 329.54,703.41 330.27,705.78 331,708.12 331.73,710.37 332.46,712.47 333.19,714.35 333.92,715.96 334.65,717.39 335.38,718.72 336.11,719.98 336.84,721.15 337.56,722.26 338.29,723.3 339.02,724.29 339.75,725.23 340.48,726.13 341.21,727 341.94,727.83 342.67,728.62 343.4,729.37 344.13,730.09 344.86,730.79 345.59,731.46 346.32,732.12 347.05,732.77 347.78,733.41 348.51,734.05 349.24,734.69 349.97,735.32 350.7,735.93 351.43,736.48 352.16,736.97 352.89,737.4 353.62,737.82 354.35,738.22 355.08,738.61 355.81,738.99 356.54,739.35 357.27,739.69 358,740.02 358.73,740.33 359.46,740.62 360.19,740.9 360.92,741.16 361.65,741.41 362.38,741.64 363.11,741.85 363.84,742.06 364.57,742.27 365.3,742.48 366.03,742.68 366.75,742.88 367.48,743.08 368.21,743.28 368.94,743.47 369.67,743.65 370.4,743.83 371.13,744 371.86,744.17 372.59,744.33 373.32,744.48 374.05,744.62 374.78,744.76 375.51,744.89 376.24,745 376.97,745.11 377.7,745.21 378.43,745.3 379.16,745.37 379.89,745.44 380.62,745.49 381.35,745.53" fill="none" stroke="#ff00ff" stroke-width="3.2" stroke-linejoin="round" stroke-linecap="square"/>
<polyline points="89.45,744.58 90.18,744.52 90.91,744.45 91.64,744.38 92.37,744.31 93.1,744.23 93.83,744.15 94.56,744.07 95.29,743.98 96.02,743.88 96.75,743.79 97.48,743.69 98.21,743.59 98.94,743.48 99.67,743.37 100.4,743.26 101.13,743.15 101.86,743.03 102.59,742.91 103.32,742.79 104.05,742.67 104.77,742.55 105.5,742.41 106.23,742.27 106.96,742.12 107.69,741.97 108.42,741.81 109.15,741.65 109.88,741.48 110.61,741.3 111.34,741.13 112.07,740.95 112.8,740.76 113.53,740.58 114.26,740.39 114.99,740.2 115.72,740.01 116.45,739.82 117.18,739.63 117.91,739.44 118.64,739.25 119.37,739.06 120.1,738.88 120.83,738.7 121.56,738.51 122.29,738.33 123.02,738.15 123.75,737.97 124.48,737.78 125.21,737.59 125.94,737.4 126.67,737.2 127.4,737 128.13,736.79 128.86,736.57 129.59,736.35 130.32,736.11 131.05,735.87 131.78,735.61 132.51,735.34 133.24,735.06 133.96,734.77 134.69,734.45 135.42,734.11 136.15,733.75 136.88,733.37 137.61,732.97 138.34,732.55 139.07,732.11 139.8,731.66 140.53,731.2 141.26,730.71 141.99,730.22 142.72,729.71 143.45,729.18 144.18,728.65 144.91,728.1 145.64,727.54 146.37,726.94 147.1,726.32 147.83,725.66 148.56,724.97 149.29,724.25 150.02,723.49 150.75,722.69 151.48,721.85 152.21,720.97 152.94,720.03 153.67,719.01 154.4,717.9 155.13,716.71 155.86,715.44 156.59,714.11 157.32,712.73 158.05,711.3 158.78,709.8 159.51,708.18 160.24,706.45 160.97,704.63 161.7,702.74 162.43,700.82 163.15,698.81 163.88,696.68 164.61,694.51 165.34,692.36 166.07,690.35 166.8,688.35 167.53,686.18 168.26,683.69 168.99,680.7 169.72,677.22 170.45,673.24 171.18,668.73 171.91,663.7 172.64,658.12 173.37,651.93 174.1,643.79 174.83,634.12 175.56,624.34 176.29,614.99 177.02,604.93 177.75,592.82 178.48,580.58 179.21,567.79 179.94,556.2 180.67,552.52 181.4,555.35 182.13,560.39 182.86,565.36 183.59,570.5 184.32,575.89 185.05,578.95 185.78,577.57 186.51,572.53 187.24,565.69 187.97,558.93 188.7,552.43 189.43,544.49 190.16,536.71 190.89,530.8 191.62,528.45 192.34,535.37 193.07,549.69 193.8,561.78 194.53,566.54 195.26,569.55 195.99,572.17 196.72,575.53 197.45,580.27 198.18,586.7 198.91,598.15 199.64,612.24 200.37,622.55 201.1,631.94 201.83,641.52 202.56,650.8 203.29,659.51 204.02,667.61 204.75,674.97 205.48,680.09 206.21,684.52 206.94,688.54 207.67,692.2 208.4,695.55 209.13,698.62 209.86,701.46 210.59,704.11 211.32,706.61 212.05,709.01 212.78,711.34 213.51,713.59 214.24,715.75 214.97,717.81 215.7,719.79 216.43,721.67 217.16,723.46 217.89,725.15 218.62,726.73 219.35,728.22 220.08,729.6 220.81,730.88 221.53,732.07 222.26,733.19 222.99,734.24 223.72,735.22 224.45,736.14 225.18,736.99 225.91,737.77 226.64,738.49 227.37,739.2 228.1,739.94 228.83,740.61 229.56,741.15 230.29,741.47 231.02,741.29 231.75,738.74 232.48,733.96 233.21,726.96 233.94,702.35 234.67,670.54 235.4,654.78 236.13,671.48 236.86,705.06 237.59,730.77 238.32,737.43 239.05,741.56 239.78,743.43 240.51,744 241.24,744.46 241.97,744.82 242.7,745.08 243.43,745.25 244.16,745.33 244.89,745.32 245.62,745.25 246.35,745.11 247.08,744.92 247.81,744.69 248.54,744.41 249.27,744.1 250,743.76 250.72,743.4 251.45,743.04 252.18,742.66 252.91,742.29 253.64,741.9 254.37,741.46 255.1,740.97 255.83,740.43 256.56,739.86 257.29,739.25 258.02,738.6 258.75,737.92 259.48,737.21 260.21,736.48 260.94,735.72 261.67,734.93 262.4,734.13 263.13,733.31 263.86,732.48 264.59,731.64 265.32,730.77 266.05,729.87 266.78,728.93 267.51,727.93 268.24,726.88 268.97,725.77 269.7,724.59 270.43,723.34 271.16,722.01 271.89,720.6 272.62,719.06 273.35,717.34 274.08,715.45 274.81,713.41 275.54,711.21 276.27,708.87 277,706.39 277.73,703.56 278.46,700.36 279.19,696.94 279.91,693.43 280.64,689.98 281.37,686.68 282.1,683.48 282.83,680.27 283.56,677.01 284.29,673.61 285.02,670 285.75,666.19 286.48,662.14 287.21,657.65 287.94,652.77 288.67,647.55 289.4,641.44 290.13,633.85 290.86,622.68 291.59,608.04 292.32,590.11 293.05,572.62 293.78,557.56 294.51,550.39 295.24,545.77 295.97,542.64 296.7,540.71 297.43,539.11 298.16,537.7 298.89,536.5 299.62,535.55 300.35,534.9 301.08,534.57 301.81,534.9 302.54,536.87 303.27,540.17 304,544.29 304.73,548.77 305.46,553.13 306.19,557.38 306.92,562.18 307.65,567.27 308.38,572.36 309.1,577.44 309.83,582.73 310.56,587.84 311.29,592.38 312.02,596.09 312.75,599.37 313.48,602.7 314.21,606.56 314.94,611 315.67,615.78 316.4,620.66 317.13,625.39 317.86,629.73 318.59,633.74 319.32,637.55 320.05,641.25 320.78,644.91 321.51,648.62 322.24,652.46 322.97,656.54 323.7,660.85 324.43,665.27 325.16,669.66 325.89,673.87 326.62,677.76 327.35,681.24 328.08,684.51 328.81,687.63 329.54,690.59 330.27,693.38 331,695.99 331.73,698.39 332.46,700.61 333.19,702.73 333.92,704.76 334.65,706.69 335.38,708.52 336.11,710.26 336.84,711.9 337.56,713.43 338.29,714.85 339.02,716.18 339.75,717.43 340.48,718.63 341.21,719.77 341.94,720.86 342.67,721.89 343.4,722.88 344.13,723.81 344.86,724.69 345.59,725.53 346.32,726.31 347.05,727.06 347.78,727.77 348.51,728.44 349.24,729.08 349.97,729.69 350.7,730.25 351.43,730.77 352.16,731.26 352.89,731.71 353.62,732.15 354.35,732.57 355.08,732.98 355.81,733.37 356.54,733.75 357.27,734.11 358,734.46 358.73,734.79 359.46,735.11 360.19,735.42 360.92,735.72 361.65,736.01 362.38,736.29 363.11,736.55 363.84,736.81 364.57,737.06 365.3,737.31 366.03,737.54 366.75,737.77 367.48,737.99 368.21,738.2 368.94,738.4 369.67,738.6 370.4,738.79 371.13,738.97 371.86,739.15 372.59,739.32 373.32,739.48 374.05,739.64 374.78,739.8 375.51,739.95 376.24,740.1 376.97,740.24 377.7,740.37 378.43,740.5 379.16,740.63 379.89,740.75 380.62,740.86 381.35,740.96" fill="none" stroke="#00ffff" stroke-width="3.2" stroke-linejoin="round" stroke-linecap="square"/>
</g>
<rect x="75" y="424.1" width="321.1" height="339" fill="none" stroke="#000" stroke-width="1.8"/>
<path d="M118.64 763.1v-5.8M177.02 763.1v-5.8M235.4 763.1v-5.8M293.78 763.1v-5.8M352.16 763.1v-5.8" stroke="#000" stroke-width="1.5" fill="none"/>
<path d="M75 748h5.8M75 709.95h5.8M75 671.9h5.8M75 633.85h5.8M75 595.8h5.8M75 557.75h5.8M75 519.7h5.8M75 481.65h5.8M75 443.6h5.8" stroke="#000" stroke-width="1.5" fill="none"/>
<text transform="translate(57.54,755) scale(1.0000,1)" font-size="19.4">0</text>
<text transform="translate(46.87,716.95) scale(1.0000,1)" font-size="19.4">10</text>
<text transform="translate(46.87,678.9) scale(1.0000,1)" font-size="19.4">20</text>
<text transform="translate(46.87,640.85) scale(1.0000,1)" font-size="19.4">30</text>
<text transform="translate(46.87,602.8) scale(1.0000,1)" font-size="19.4">40</text>
<text transform="translate(46.87,564.75) scale(1.0000,1)" font-size="19.4">50</text>
<text transform="translate(46.87,526.7) scale(1.0000,1)" font-size="19.4">60</text>
<text transform="translate(46.87,488.65) scale(1.0000,1)" font-size="19.4">70</text>
<text transform="translate(46.87,450.6) scale(1.0000,1)" font-size="19.4">80</text>
<text transform="translate(103.1,783.5) scale(0.9783,1)" font-size="19">−40</text>
<text transform="translate(161.3,783.5) scale(0.9567,1)" font-size="19">−20</text>
<text transform="translate(230.3,783.5) scale(0.9117,1)" font-size="19">0</text>
<text transform="translate(283.3,783.5) scale(0.9436,1)" font-size="19">20</text>
<text transform="translate(341.9,783.5) scale(0.9436,1)" font-size="19">40</text>
<text transform="translate(187.8,810.6) scale(1.1007,1)" xml:space="preserve"><tspan x="0" y="0" font-size="22.6" font-style="italic">ω</tspan><tspan x="17.6" y="0" font-size="22.6"> (meV)</tspan></text>
<text transform="translate(34.6,625.2) rotate(-90) scale(0.9752,1) translate(0,0)" xml:space="preserve"><tspan x="0" y="0" font-size="23.6" font-style="italic">LDOS</tspan></text>
<text transform="translate(8.3,444.6) scale(1.0147,1)" font-size="20.3" stroke="#000" stroke-width="0.28">(c)</text>
<text transform="translate(76.1,420.3) scale(1.2563,1)" xml:space="preserve" stroke="#000" stroke-width="0.28"><tspan x="0" y="0.8" font-size="22.14">×</tspan><tspan x="12.93" y="0" font-size="16.4">10</tspan><tspan x="31.17" y="-6.2" font-size="11.48">−3</tspan></text>
<clipPath id="cd"><rect x="493" y="424.1" width="320.7" height="339"/></clipPath>
<g clip-path="url(#cd)">
<polyline points="576.38,695.21 578.38,695.21 580.37,695.21 582.36,695.21 584.36,695.21 586.35,695.21 588.35,695.21 590.34,695.21 592.34,695.21 594.33,695.21 596.32,695.21 598.32,695.21 600.31,695.21 602.31,695.21 604.3,695.21 606.3,695.21 608.29,695.21 610.28,695.21 612.28,695.21 614.27,695.2 616.27,695.15 618.26,695.05 620.26,694.89 622.25,694.68 624.24,694.42 626.24,694.11 628.23,693.75 630.23,693.34 632.22,692.87 634.22,692.35 636.21,691.78 638.2,691.16 640.2,690.49 642.19,689.76 644.19,688.99 646.18,688.16 648.18,687.28 650.17,686.35 652.16,685.36 654.16,684.33 656.15,683.24 658.15,682.1 660.14,680.91 662.14,679.67 664.13,678.38 666.12,677.03 668.12,675.63 670.11,674.18 672.11,672.68 674.1,671.13 676.1,669.53 678.09,667.87 680.08,666.16 682.08,664.4 684.07,662.59 686.07,660.73 688.06,658.81 690.06,656.85 692.05,654.83 694.04,652.76 696.04,650.64 698.03,648.46 700.03,646.24 702.02,643.96 704.02,641.63 706.01,639.25 708,636.82 710,634.33 711.99,631.8 713.99,629.21 715.98,626.57 717.98,623.88 719.97,621.14 721.96,618.34 723.96,615.5 725.95,612.6 727.95,609.65 729.94,606.65 731.93,603.59 733.93,600.49 735.92,597.33 737.92,594.12 739.91,590.86 741.91,587.55 743.9,584.19 745.89,580.77 747.89,577.31 749.88,573.79 751.88,570.22 753.87,566.59 755.87,562.92 757.86,559.19 759.85,555.42 761.85,551.59 763.84,547.71 765.84,543.77 767.83,539.79 769.83,535.75 771.82,531.66 773.81,527.52 775.81,523.33 777.8,519.09 779.8,514.79 781.79,510.45 783.79,506.05 785.78,501.6 787.77,497.1 789.77,492.54 791.76,487.94 793.76,483.28 795.75,478.57 797.75,473.81 799.74,469 801.73,464.13 803.73,459.22 805.72,454.25 807.72,449.23 809.71,444.16 811.71,439.04 813.7,433.86" fill="none" stroke="#f00" stroke-width="2.4"/>
<path d="M593.22 675.46V699.53" stroke="#f00" stroke-width="1.5"/>
<path d="M586.42 675.46h13.6M586.42 699.53h13.6" stroke="#f00" stroke-width="1.6"/>
<rect x="589.22" y="683.49" width="8.0" height="8.0" fill="#f00"/>
<path d="M626.62 691.2V706.63" stroke="#f00" stroke-width="1.5"/>
<path d="M619.83 691.2h13.6M619.83 706.63h13.6" stroke="#f00" stroke-width="1.6"/>
<rect x="622.62" y="694.6" width="8.0" height="8.0" fill="#f00"/>
<path d="M653.35 688.11V701.38" stroke="#f00" stroke-width="1.5"/>
<path d="M646.55 688.11h13.6M646.55 701.38h13.6" stroke="#f00" stroke-width="1.6"/>
<rect x="649.35" y="690.59" width="8.0" height="8.0" fill="#f00"/>
<path d="M693.44 632.25V652" stroke="#f00" stroke-width="1.5"/>
<path d="M686.64 632.25h13.6M686.64 652h13.6" stroke="#f00" stroke-width="1.6"/>
<rect x="689.44" y="637.82" width="8.0" height="8.0" fill="#f00"/>
<path d="M760.25 547.39V571.46" stroke="#f00" stroke-width="1.5"/>
<path d="M753.45 547.39h13.6M753.45 571.46h13.6" stroke="#f00" stroke-width="1.6"/>
<rect x="756.25" y="554.81" width="8.0" height="8.0" fill="#f00"/>
</g>
<rect x="493" y="424.1" width="320.7" height="339" fill="none" stroke="#000" stroke-width="1.8"/>
<path d="M573.17 763.1v-5.8M653.35 763.1v-5.8M733.52 763.1v-5.8" stroke="#000" stroke-width="1.5" fill="none"/>
<path d="M493 701.38h5.8M493 639.66h5.8M493 577.94h5.8M493 516.22h5.8M493 454.5h5.8" stroke="#000" stroke-width="1.5" fill="none"/>
<text transform="translate(475.75,770) scale(1.0000,1)" font-size="19.2">0</text>
<text transform="translate(465.19,708.28) scale(1.0000,1)" font-size="19.2">20</text>
<text transform="translate(465.19,646.56) scale(1.0000,1)" font-size="19.2">40</text>
<text transform="translate(465.19,584.84) scale(1.0000,1)" font-size="19.2">60</text>
<text transform="translate(465.19,523.12) scale(1.0000,1)" font-size="19.2">80</text>
<text transform="translate(454.44,461.4) scale(1.0000,1)" font-size="19.2">100</text>
<text transform="translate(479.06,783.4) scale(1.0000,1)" font-size="19.2">0.0</text>
<text transform="translate(559.23,783.4) scale(1.0000,1)" font-size="19.2">0.1</text>
<text transform="translate(639.41,783.4) scale(1.0000,1)" font-size="19.2">0.2</text>
<text transform="translate(719.58,783.4) scale(1.0000,1)" font-size="19.2">0.3</text>
<text transform="translate(799.76,783.4) scale(1.0000,1)" font-size="19.2">0.4</text>
<text transform="translate(636.3,809.9) scale(1.0601,1)" xml:space="preserve"><tspan x="0" y="0" font-size="22.4">1/</tspan><tspan x="18.68" y="0" font-size="22.4" font-style="italic">L</tspan></text>
<text transform="translate(441.5,665.1) rotate(-90) scale(1.0527,1) translate(0,0)" xml:space="preserve"><tspan x="0" y="0" font-size="23" font-style="italic">LDOS</tspan><tspan x="62.63" y="0" font-size="23">(</tspan><tspan x="70.29" y="0" font-size="23" font-style="italic">ω</tspan><tspan x="88.2" y="0" font-size="23"> = 0)</tspan></text>
<text transform="translate(426.3,443.4) scale(1.0328,1)" font-size="20" stroke="#000" stroke-width="0.28">(d)</text>
<text transform="translate(493.7,420.3) scale(1.2585,1)" xml:space="preserve" stroke="#000" stroke-width="0.28"><tspan x="0" y="0.8" font-size="22.14">×</tspan><tspan x="12.93" y="0" font-size="16.4">10</tspan><tspan x="31.17" y="-6.2" font-size="11.48">−3</tspan></text>
</svg>
</body></html>
